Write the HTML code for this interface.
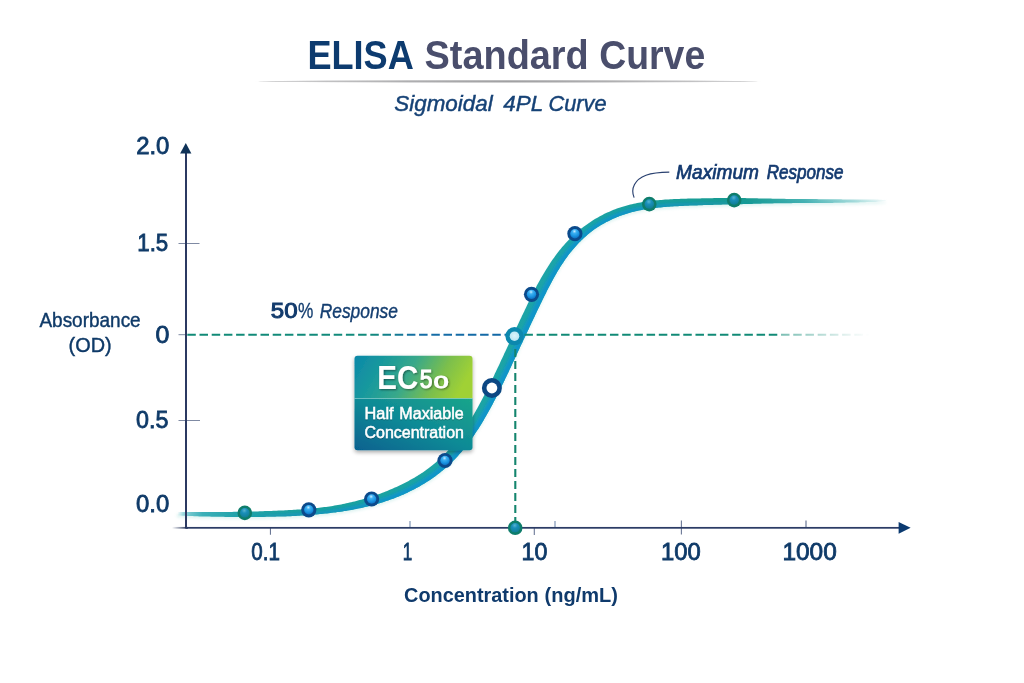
<!DOCTYPE html>
<html lang="en">
<head>
<meta charset="utf-8">
<title>ELISA Standard Curve</title>
<style>
  html, body { margin: 0; padding: 0; background: #ffffff; }
  body { width: 1024px; height: 683px; overflow: hidden; }
  svg { display: block; }
  text { font-family: "Liberation Sans", sans-serif; }
  .lbl { fill: #103a66; stroke: #103a66; stroke-width: 0.55px; }
  .ser { font-family: "Liberation Sans", sans-serif; }
</style>
</head>
<body>
<svg width="1024" height="683" viewBox="0 0 1024 683">
  <defs>
    <linearGradient id="ruleG" x1="0" x2="1" y1="0" y2="0">
      <stop offset="0" stop-color="#b2b2b4" stop-opacity="0"/>
      <stop offset="0.12" stop-color="#b2b2b4" stop-opacity="0.5"/>
      <stop offset="0.30" stop-color="#adadaf" stop-opacity="0.95"/>
      <stop offset="0.50" stop-color="#a0a0a2" stop-opacity="1"/>
      <stop offset="0.70" stop-color="#adadaf" stop-opacity="0.95"/>
      <stop offset="0.88" stop-color="#b2b2b4" stop-opacity="0.5"/>
      <stop offset="1" stop-color="#b2b2b4" stop-opacity="0"/>
    </linearGradient>
    <linearGradient id="curveG" gradientUnits="userSpaceOnUse" x1="174" x2="890" y1="0" y2="0">
      <stop offset="0" stop-color="#6cc6cd" stop-opacity="0"/>
      <stop offset="0.005" stop-color="#6cc6cd" stop-opacity="0"/>
      <stop offset="0.013" stop-color="#62c2ca" stop-opacity="0.6"/>
      <stop offset="0.024" stop-color="#52bac2" stop-opacity="0.85"/>
      <stop offset="0.04" stop-color="#3cb0b8" stop-opacity="1"/>
      <stop offset="0.085" stop-color="#22a4aa" stop-opacity="1"/>
      <stop offset="0.18" stop-color="#1aa09c" stop-opacity="1"/>
      <stop offset="0.32" stop-color="#1ba3a2" stop-opacity="1"/>
      <stop offset="0.55" stop-color="#1da4a8" stop-opacity="1"/>
      <stop offset="0.70" stop-color="#189e98" stop-opacity="1"/>
      <stop offset="0.80" stop-color="#179a90" stop-opacity="1"/>
      <stop offset="0.88" stop-color="#2aa6a6" stop-opacity="0.85"/>
      <stop offset="0.95" stop-color="#49b5b5" stop-opacity="0.45"/>
      <stop offset="1" stop-color="#6cc6c6" stop-opacity="0"/>
    </linearGradient>
    <linearGradient id="curveIn" gradientUnits="userSpaceOnUse" x1="174" x2="890" y1="0" y2="0">
      <stop offset="0" stop-color="#1391c8" stop-opacity="0"/>
      <stop offset="0.10" stop-color="#1391c8" stop-opacity="0.05"/>
      <stop offset="0.16" stop-color="#1391c8" stop-opacity="0.6"/>
      <stop offset="0.30" stop-color="#1294cb" stop-opacity="0.95"/>
      <stop offset="0.62" stop-color="#1294cb" stop-opacity="0.95"/>
      <stop offset="0.72" stop-color="#1391c8" stop-opacity="0.55"/>
      <stop offset="0.80" stop-color="#1391c8" stop-opacity="0.15"/>
      <stop offset="1" stop-color="#1391c8" stop-opacity="0"/>
    </linearGradient>
    <linearGradient id="hdashL" gradientUnits="userSpaceOnUse" x1="186" x2="516" y1="0" y2="0">
      <stop offset="0" stop-color="#118a76"/>
      <stop offset="0.56" stop-color="#128a7c"/>
      <stop offset="0.70" stop-color="#166ea6"/>
      <stop offset="1" stop-color="#1267a6"/>
    </linearGradient>
    <linearGradient id="hdashR" gradientUnits="userSpaceOnUse" x1="520" x2="870" y1="0" y2="0">
      <stop offset="0" stop-color="#118a76"/>
      <stop offset="0.735" stop-color="#118a76" stop-opacity="1"/>
      <stop offset="0.745" stop-color="#118a76" stop-opacity="0.55"/>
      <stop offset="0.86" stop-color="#118a76" stop-opacity="0.30"/>
      <stop offset="0.94" stop-color="#118a76" stop-opacity="0.10"/>
      <stop offset="1" stop-color="#118a76" stop-opacity="0"/>
    </linearGradient>
    <linearGradient id="xaxisG" gradientUnits="userSpaceOnUse" x1="172" x2="188" y1="0" y2="0">
      <stop offset="0" stop-color="#1f2e55" stop-opacity="0"/>
      <stop offset="1" stop-color="#1f2e55" stop-opacity="1"/>
    </linearGradient>
    <linearGradient id="boxTop" x1="0" x2="1" y1="0.1" y2="0.3">
      <stop offset="0" stop-color="#0c89a8"/>
      <stop offset="0.25" stop-color="#1a9a9c"/>
      <stop offset="0.5" stop-color="#38a88a"/>
      <stop offset="0.78" stop-color="#7cbf4c"/>
      <stop offset="1" stop-color="#a0d135"/>
    </linearGradient>
    <linearGradient id="boxBot" x1="0" x2="1" y1="1" y2="0">
      <stop offset="0" stop-color="#06618f"/>
      <stop offset="0.5" stop-color="#0f8a96"/>
      <stop offset="1" stop-color="#1aa58a"/>
    </linearGradient>
    <filter id="boxShadow" x="-20%" y="-20%" width="140%" height="150%">
      <feGaussianBlur in="SourceAlpha" stdDeviation="2.2"/>
      <feOffset dx="0" dy="2" result="b"/>
      <feComponentTransfer><feFuncA type="linear" slope="0.35"/></feComponentTransfer>
      <feMerge><feMergeNode/><feMergeNode in="SourceGraphic"/></feMerge>
    </filter>
    <filter id="txtShadow" x="-10%" y="-20%" width="120%" height="150%">
      <feGaussianBlur in="SourceAlpha" stdDeviation="0.9"/>
      <feOffset dx="0.6" dy="1.2"/>
      <feComponentTransfer><feFuncA type="linear" slope="0.45"/></feComponentTransfer>
      <feMerge><feMergeNode/><feMergeNode in="SourceGraphic"/></feMerge>
    </filter>
    <filter id="txtShadow2" x="-10%" y="-20%" width="120%" height="150%">
      <feGaussianBlur in="SourceAlpha" stdDeviation="0.6"/>
      <feOffset dx="0.3" dy="0.8"/>
      <feComponentTransfer><feFuncA type="linear" slope="0.3"/></feComponentTransfer>
      <feMerge><feMergeNode/><feMergeNode in="SourceGraphic"/></feMerge>
    </filter>
    <filter id="ruleSoft" x="-2%" y="-300%" width="104%" height="700%">
      <feGaussianBlur stdDeviation="0.7"/>
    </filter>
    <filter id="soft" x="-5%" y="-5%" width="110%" height="110%">
      <feGaussianBlur stdDeviation="1.5"/>
    </filter>
    <filter id="glow" x="-5%" y="-5%" width="110%" height="110%">
      <feGaussianBlur stdDeviation="1.5"/>
    </filter>
    <radialGradient id="ptBlue" cx="0.45" cy="0.25" r="0.75">
      <stop offset="0" stop-color="#c8ecff"/>
      <stop offset="0.28" stop-color="#3db1f2"/>
      <stop offset="0.7" stop-color="#1792e0"/>
      <stop offset="1" stop-color="#0f6fc0"/>
    </radialGradient>
    <radialGradient id="ptGreen" cx="0.45" cy="0.25" r="0.8">
      <stop offset="0" stop-color="#58b4d0"/>
      <stop offset="0.35" stop-color="#1a8fba"/>
      <stop offset="0.8" stop-color="#12819c"/>
      <stop offset="1" stop-color="#0e7d7b"/>
    </radialGradient>
    <radialGradient id="ptLight" cx="0.5" cy="0.45" r="0.6">
      <stop offset="0" stop-color="#dcf4fb"/>
      <stop offset="1" stop-color="#b4e4f2"/>
    </radialGradient>
    <g id="pBlue">
      <circle r="7.6" fill="#0b4a8b"/>
      <circle r="4.7" fill="url(#ptBlue)"/>
    </g>
    <g id="pGreen">
      <circle r="7.3" fill="#0e7d6b"/>
      <circle r="4.8" fill="url(#ptGreen)"/>
    </g>
  </defs>

  <rect x="0" y="0" width="1024" height="683" fill="#ffffff"/>

  <!-- Title, labels -->
  <g>
    <text transform="translate(307.40,68.85) scale(0.9035,1)" font-size="40.00" font-weight="700" fill="#0d3b6f">ELISA</text>
    <text transform="translate(424.61,68.95) scale(0.9399,1)" font-size="40.30" font-weight="700" fill="#4a4e6c">Standard</text>
    <text transform="translate(599.25,68.95) scale(0.9278,1)" font-size="40.30" font-weight="700" fill="#4a4e6c">Curve</text>
    <text transform="translate(394.30,111.20) scale(1.0047,1)" font-size="22.30" font-style="italic" fill="#164276" stroke="#164276" stroke-width="0.45">Sigmoidal</text>
    <text transform="translate(503.36,111.20) scale(1.0059,1)" font-size="22.30" font-style="italic" fill="#164276" stroke="#164276" stroke-width="0.45">4PL</text>
    <text transform="translate(548.47,111.20) scale(0.9763,1)" font-size="22.30" font-style="italic" fill="#164276" stroke="#164276" stroke-width="0.45">Curve</text>
    <text transform="translate(136.16,153.71) scale(1.0167,1)" font-size="23.52" fill="#0f3a68" stroke="#0f3a68" stroke-width="0.8">2.0</text>
    <text transform="translate(137.26,251.11) scale(0.9464,1)" font-size="23.57" fill="#0f3a68" stroke="#0f3a68" stroke-width="0.8">1.5</text>
    <text transform="translate(155.57,342.61) scale(1.0433,1)" font-size="23.94" fill="#0f3a68" stroke="#0f3a68" stroke-width="0.8">0</text>
    <text transform="translate(136.01,427.61) scale(0.9901,1)" font-size="23.52" fill="#0f3a68" stroke="#0f3a68" stroke-width="0.8">0.5</text>
    <text transform="translate(136.00,511.91) scale(1.0095,1)" font-size="23.66" fill="#0f3a68" stroke="#0f3a68" stroke-width="0.8">0.0</text>
    <text transform="translate(251.27,560.21) scale(0.8613,1)" font-size="23.94" fill="#0f3a68" stroke="#0f3a68" stroke-width="0.8">0.1</text>
    <text transform="translate(402.65,560.15) scale(0.7049,1)" font-size="24.20" fill="#0f3a68" stroke="#0f3a68" stroke-width="0.8">1</text>
    <text transform="translate(521.61,559.92) scale(0.9925,1)" font-size="23.38" fill="#0f3a68" stroke="#0f3a68" stroke-width="0.8">10</text>
    <text transform="translate(660.97,560.01) scale(1.0140,1)" font-size="23.52" fill="#0f3a68" stroke="#0f3a68" stroke-width="0.8">100</text>
    <text transform="translate(782.43,560.01) scale(1.0391,1)" font-size="23.52" fill="#0f3a68" stroke="#0f3a68" stroke-width="0.8">1000</text>
    <text transform="translate(39.44,327.45) scale(0.9306,1)" font-size="20.40" fill="#0f3a68" stroke="#0f3a68" stroke-width="0.4">Absorbance</text>
    <text transform="translate(68.55,352.05) scale(0.9758,1)" font-size="20.40" fill="#0f3a68" stroke="#0f3a68" stroke-width="0.4">(OD)</text>
    <text transform="translate(404.05,601.90) scale(0.9558,1)" font-size="20.80" font-weight="700" fill="#0f3a6c">Concentration</text>
    <text transform="translate(544.55,601.90) scale(0.9629,1)" font-size="20.80" font-weight="700" fill="#0f3a6c">(ng/mL)</text>
    <text transform="translate(270.82,317.83) scale(1.0754,1)" font-size="22.39" fill="#123a6c" stroke="#123a6c" stroke-width="1.0">50</text>
    <text transform="translate(298.07,317.89) scale(0.8138,1)" font-size="21.21" fill="#143e70" stroke="#143e70" stroke-width="0.3">%</text>
    <text transform="translate(319.70,317.70) scale(0.8517,1)" font-size="20.40" font-style="italic" fill="#143e70" stroke="#143e70" stroke-width="0.4">Response</text>
    <text transform="translate(676.12,178.80) scale(0.9812,1)" font-size="19.50" font-style="italic" fill="#143a70" stroke="#143a70" stroke-width="0.7">Maximum</text>
    <text transform="translate(766.74,178.80) scale(0.8752,1)" font-size="19.50" font-style="italic" fill="#143a70" stroke="#143a70" stroke-width="0.7">Response</text>
  </g>
  <ellipse cx="508" cy="81.4" rx="250" ry="1.3" fill="#a4a4a6" opacity="0.45" filter="url(#ruleSoft)"/>
  <ellipse cx="508" cy="81.35" rx="256" ry="0.85" fill="url(#ruleG)"/>

  <!-- y ticks -->
  <g stroke="#7f8aa3" stroke-width="1">
    <line x1="178.5" x2="199.5" y1="243.5" y2="243.5"/>
    <line x1="178.5" x2="186" y1="334.7" y2="334.7"/>
    <line x1="178.5" x2="200" y1="420.5" y2="420.5"/>
  </g>
  <!-- x ticks -->
  <g stroke="#6b7896" stroke-width="1.1">
    <line x1="270.45" x2="270.45" y1="528" y2="534.7"/>
    <line x1="534.3" x2="534.3" y1="528" y2="535"/>
    <line x1="681.4" x2="681.4" y1="520.5" y2="534.6"/>
  </g>
  <g stroke="#9fb0c8" stroke-width="1.6">
    <line x1="410" x2="410" y1="521" y2="527"/>
    <line x1="555" x2="555" y1="521" y2="527"/>
  </g>
  <g stroke="#6b7896" stroke-width="1.2">
    <line x1="806" x2="806" y1="520.5" y2="527"/>
  </g>

  <!-- curve -->
  <clipPath id="curveClip"><path d="M176.9,515.5 L178.6,515.5 L180.4,515.6 L182.1,515.7 L183.8,515.8 L185.6,515.8 L187.3,515.9 L189.0,516.0 L190.7,516.1 L192.5,516.1 L194.2,516.2 L195.9,516.3 L197.6,516.3 L199.4,516.4 L201.1,516.4 L202.8,516.5 L204.5,516.5 L206.3,516.6 L208.0,516.6 L209.7,516.6 L211.4,516.7 L213.2,516.7 L214.9,516.7 L216.6,516.7 L218.4,516.8 L220.1,516.8 L221.8,516.8 L223.5,516.8 L225.3,516.9 L227.0,516.9 L228.7,516.9 L230.4,516.9 L232.2,516.9 L233.9,516.9 L235.6,517.0 L237.3,517.0 L239.1,517.0 L240.8,517.0 L242.5,517.0 L244.2,517.0 L245.9,517.0 L247.7,517.0 L249.4,517.0 L251.1,517.0 L252.8,517.0 L254.6,517.0 L256.3,516.9 L258.0,516.9 L259.7,516.9 L261.5,516.9 L263.2,516.9 L264.9,516.9 L266.6,516.8 L268.3,516.8 L270.1,516.8 L271.8,516.7 L273.5,516.7 L275.2,516.7 L276.9,516.6 L278.7,516.6 L280.4,516.5 L282.1,516.5 L283.8,516.4 L285.5,516.4 L287.3,516.3 L289.0,516.2 L290.7,516.2 L292.4,516.1 L294.2,516.0 L295.9,515.9 L297.6,515.8 L299.3,515.7 L301.0,515.6 L302.8,515.5 L304.5,515.4 L306.2,515.3 L307.9,515.2 L309.6,515.0 L311.4,514.9 L313.1,514.8 L314.8,514.6 L316.5,514.5 L318.3,514.3 L320.0,514.1 L321.7,514.0 L323.4,513.8 L325.1,513.6 L326.9,513.4 L328.6,513.2 L330.3,513.0 L332.0,512.8 L333.8,512.6 L335.5,512.4 L337.2,512.1 L339.0,511.9 L340.7,511.7 L342.4,511.4 L344.2,511.1 L345.9,510.9 L347.6,510.6 L349.3,510.3 L351.1,510.0 L352.8,509.7 L354.5,509.3 L356.3,509.0 L358.0,508.6 L359.7,508.3 L361.5,507.9 L363.2,507.5 L364.9,507.1 L366.6,506.7 L368.4,506.3 L370.1,505.8 L371.8,505.4 L373.5,504.9 L375.2,504.4 L376.9,503.9 L378.6,503.4 L380.3,502.9 L382.0,502.4 L383.7,501.9 L385.4,501.3 L387.1,500.8 L388.8,500.2 L390.4,499.6 L392.1,499.0 L393.8,498.4 L395.4,497.8 L397.1,497.1 L398.7,496.5 L400.4,495.8 L402.0,495.1 L403.6,494.4 L405.3,493.6 L406.9,492.9 L408.5,492.1 L410.0,491.3 L411.6,490.6 L413.2,489.7 L414.8,488.9 L416.3,488.1 L417.9,487.2 L419.4,486.4 L420.9,485.5 L422.5,484.6 L424.0,483.7 L425.5,482.8 L427.0,481.8 L428.4,480.9 L429.9,479.9 L431.4,478.9 L432.8,477.9 L434.2,476.9 L435.7,475.9 L437.1,474.8 L438.5,473.7 L439.9,472.7 L441.2,471.6 L442.6,470.5 L444.0,469.3 L445.3,468.2 L446.6,467.0 L447.9,465.8 L449.2,464.6 L450.5,463.4 L451.8,462.2 L453.0,461.0 L454.3,459.7 L455.5,458.4 L456.7,457.2 L457.9,455.9 L459.0,454.5 L460.2,453.2 L461.4,451.9 L462.5,450.5 L463.6,449.2 L464.7,447.8 L465.8,446.4 L466.9,445.0 L468.0,443.6 L469.0,442.2 L470.1,440.8 L471.1,439.4 L472.1,437.9 L473.2,436.5 L474.2,435.0 L475.1,433.6 L476.1,432.1 L477.1,430.6 L478.1,429.2 L479.0,427.7 L479.9,426.2 L480.9,424.7 L481.8,423.2 L482.7,421.7 L483.6,420.2 L484.5,418.6 L485.4,417.1 L486.3,415.6 L487.1,414.1 L488.0,412.5 L488.8,411.0 L489.7,409.5 L490.5,407.9 L491.3,406.4 L492.2,404.9 L493.0,403.3 L493.8,401.8 L494.6,400.2 L495.4,398.7 L496.2,397.1 L497.0,395.6 L497.8,394.1 L498.5,392.5 L499.3,391.0 L500.1,389.4 L500.8,387.9 L501.6,386.3 L502.3,384.8 L503.1,383.3 L503.8,381.7 L504.6,380.2 L505.3,378.6 L506.1,377.1 L506.8,375.5 L507.5,374.0 L508.3,372.4 L509.0,370.9 L509.7,369.3 L510.5,367.8 L511.2,366.2 L511.9,364.7 L512.6,363.1 L513.4,361.6 L514.1,360.0 L514.8,358.5 L515.5,356.9 L516.3,355.4 L517.0,353.8 L517.7,352.3 L518.4,350.7 L519.2,349.2 L519.9,347.6 L520.6,346.1 L521.3,344.5 L522.1,343.0 L522.8,341.4 L523.5,339.8 L524.3,338.3 L525.0,336.7 L525.7,335.2 L526.5,333.6 L527.2,332.0 L527.9,330.5 L528.7,328.9 L529.4,327.3 L530.1,325.8 L530.9,324.2 L531.6,322.6 L532.4,321.1 L533.1,319.5 L533.8,317.9 L534.6,316.4 L535.3,314.8 L536.1,313.2 L536.8,311.6 L537.6,310.1 L538.3,308.5 L539.1,306.9 L539.8,305.4 L540.6,303.8 L541.4,302.2 L542.1,300.7 L542.9,299.1 L543.7,297.5 L544.4,296.0 L545.2,294.4 L546.0,292.9 L546.7,291.3 L547.5,289.8 L548.3,288.3 L549.1,286.7 L549.9,285.2 L550.7,283.7 L551.5,282.2 L552.3,280.7 L553.1,279.2 L553.9,277.7 L554.8,276.2 L555.6,274.7 L556.5,273.3 L557.3,271.8 L558.2,270.3 L559.1,268.9 L559.9,267.5 L560.8,266.1 L561.7,264.7 L562.7,263.3 L563.6,261.9 L564.5,260.5 L565.5,259.1 L566.5,257.8 L567.4,256.4 L568.4,255.1 L569.4,253.8 L570.4,252.5 L571.5,251.2 L572.5,249.9 L573.6,248.7 L574.7,247.4 L575.8,246.2 L576.9,245.0 L578.0,243.8 L579.1,242.6 L580.3,241.4 L581.4,240.3 L582.6,239.2 L583.8,238.0 L585.0,236.9 L586.2,235.9 L587.4,234.8 L588.7,233.7 L589.9,232.7 L591.2,231.7 L592.5,230.7 L593.8,229.7 L595.1,228.8 L596.5,227.9 L597.8,227.0 L599.2,226.2 L600.6,225.3 L602.0,224.5 L603.4,223.7 L604.8,222.9 L606.3,222.1 L607.7,221.4 L609.2,220.7 L610.6,220.0 L612.1,219.3 L613.6,218.6 L615.1,217.9 L616.6,217.3 L618.1,216.7 L619.6,216.1 L621.2,215.5 L622.7,215.0 L624.3,214.5 L625.8,214.0 L627.4,213.5 L629.0,213.0 L630.6,212.5 L632.2,212.1 L633.8,211.7 L635.4,211.3 L637.0,211.0 L638.7,210.6 L640.3,210.3 L641.9,209.9 L643.6,209.6 L645.3,209.3 L646.9,209.1 L648.6,208.8 L650.3,208.6 L652.0,208.3 L653.7,208.1 L655.4,207.9 L657.1,207.7 L658.8,207.5 L660.5,207.4 L662.2,207.2 L663.9,207.1 L665.6,206.9 L667.3,206.8 L669.1,206.7 L670.8,206.5 L672.5,206.4 L674.3,206.3 L676.0,206.2 L677.8,206.2 L679.5,206.1 L681.2,206.0 L683.0,205.9 L684.7,205.8 L686.5,205.8 L688.2,205.7 L689.9,205.6 L691.7,205.5 L693.4,205.5 L695.2,205.4 L696.9,205.4 L698.6,205.3 L700.4,205.2 L702.1,205.2 L703.8,205.1 L705.6,205.1 L707.3,205.0 L709.0,205.0 L710.7,204.9 L712.5,204.9 L714.2,204.8 L715.9,204.8 L717.6,204.7 L719.4,204.7 L721.1,204.7 L722.8,204.6 L724.5,204.6 L726.2,204.5 L728.0,204.5 L729.7,204.5 L731.4,204.4 L733.1,204.4 L734.8,204.4 L736.5,204.3 L738.3,204.3 L740.0,204.2 L741.7,204.2 L743.4,204.1 L745.1,204.1 L746.8,204.0 L748.5,204.0 L750.3,203.9 L752.0,203.9 L753.7,203.8 L755.4,203.8 L757.1,203.7 L758.8,203.7 L760.5,203.7 L762.2,203.6 L763.9,203.6 L765.6,203.5 L767.4,203.5 L769.1,203.4 L770.8,203.4 L772.5,203.4 L774.2,203.3 L775.9,203.3 L777.6,203.3 L779.3,203.2 L781.0,203.2 L782.7,203.2 L784.4,203.2 L786.1,203.2 L787.8,203.2 L789.6,203.2 L791.3,203.2 L793.0,203.1 L794.7,203.1 L796.4,203.1 L798.1,203.1 L799.8,203.1 L801.5,203.1 L803.2,203.1 L804.9,203.1 L806.7,203.1 L808.4,203.0 L810.1,203.0 L811.8,203.0 L813.5,203.0 L815.2,203.0 L816.9,203.0 L818.6,203.0 L820.4,203.0 L822.1,202.9 L823.8,202.9 L825.5,202.9 L827.2,202.9 L828.9,202.9 L830.6,202.9 L832.4,202.9 L834.1,202.8 L835.8,202.8 L837.5,202.8 L839.3,202.8 L841.0,202.7 L842.7,202.7 L844.4,202.7 L846.1,202.6 L847.9,202.6 L849.6,202.5 L851.3,202.5 L853.1,202.5 L854.8,202.4 L856.5,202.4 L858.2,202.4 L860.0,202.3 L861.7,202.3 L863.4,202.2 L865.2,202.2 L866.9,202.1 L868.7,202.1 L870.4,202.0 L872.1,202.0 L873.9,201.9 L875.6,201.9 L877.4,201.7 L879.1,201.6 L880.9,201.4 L882.6,201.3 L884.4,201.1 L886.1,201.0 L886.1,200.0 L884.3,200.0 L882.6,199.9 L880.8,199.8 L879.1,199.7 L877.3,199.6 L875.6,199.5 L873.8,199.5 L872.1,199.5 L870.4,199.5 L868.6,199.5 L866.9,199.5 L865.2,199.5 L863.4,199.5 L861.7,199.5 L860.0,199.5 L858.2,199.5 L856.5,199.5 L854.8,199.5 L853.0,199.5 L851.3,199.4 L849.6,199.4 L847.9,199.4 L846.1,199.4 L844.4,199.4 L842.7,199.4 L841.0,199.3 L839.2,199.3 L837.5,199.3 L835.8,199.3 L834.1,199.3 L832.4,199.3 L830.6,199.2 L828.9,199.2 L827.2,199.2 L825.5,199.2 L823.8,199.2 L822.1,199.2 L820.4,199.2 L818.6,199.2 L816.9,199.1 L815.2,199.1 L813.5,199.1 L811.8,199.1 L810.1,199.1 L808.4,199.1 L806.7,199.1 L804.9,199.0 L803.2,199.0 L801.5,199.0 L799.8,199.0 L798.1,199.0 L796.4,199.0 L794.7,198.9 L793.0,198.9 L791.3,198.9 L789.6,198.9 L787.9,198.9 L786.1,198.9 L784.4,198.8 L782.7,198.8 L781.0,198.8 L779.3,198.8 L777.6,198.8 L775.9,198.7 L774.2,198.7 L772.5,198.7 L770.8,198.6 L769.1,198.6 L767.3,198.6 L765.6,198.5 L763.9,198.5 L762.2,198.4 L760.5,198.4 L758.8,198.4 L757.1,198.3 L755.4,198.3 L753.7,198.3 L751.9,198.3 L750.2,198.2 L748.5,198.2 L746.8,198.2 L745.1,198.1 L743.4,198.1 L741.6,198.1 L739.9,198.1 L738.2,198.0 L736.5,198.0 L734.8,198.0 L733.0,198.0 L731.3,198.0 L729.6,198.0 L727.9,198.0 L726.2,198.0 L724.4,198.0 L722.7,198.1 L721.0,198.1 L719.3,198.1 L717.5,198.1 L715.8,198.1 L714.1,198.1 L712.3,198.2 L710.6,198.2 L708.9,198.2 L707.1,198.2 L705.4,198.3 L703.7,198.3 L701.9,198.3 L700.2,198.4 L698.4,198.4 L696.7,198.4 L695.0,198.5 L693.2,198.5 L691.5,198.5 L689.7,198.6 L688.0,198.6 L686.2,198.7 L684.5,198.7 L682.7,198.8 L680.9,198.8 L679.2,198.9 L677.4,199.0 L675.7,199.0 L673.9,199.1 L672.1,199.2 L670.4,199.3 L668.6,199.4 L666.9,199.5 L665.1,199.6 L663.3,199.7 L661.6,199.9 L659.8,200.0 L658.0,200.2 L656.3,200.3 L654.5,200.5 L652.8,200.7 L651.0,200.9 L649.3,201.1 L647.5,201.3 L645.8,201.6 L644.0,201.8 L642.3,202.1 L640.6,202.4 L638.8,202.7 L637.1,203.0 L635.4,203.4 L633.7,203.8 L632.0,204.2 L630.3,204.6 L628.6,205.0 L626.9,205.5 L625.2,205.9 L623.5,206.4 L621.8,206.9 L620.2,207.5 L618.5,208.0 L616.9,208.6 L615.2,209.2 L613.6,209.8 L612.0,210.5 L610.4,211.2 L608.8,211.9 L607.2,212.6 L605.6,213.3 L604.0,214.1 L602.5,214.9 L600.9,215.7 L599.4,216.5 L597.9,217.4 L596.4,218.2 L594.9,219.1 L593.4,220.0 L591.9,221.0 L590.5,221.9 L589.0,222.9 L587.6,223.9 L586.2,224.9 L584.7,225.9 L583.3,227.0 L582.0,228.1 L580.6,229.1 L579.2,230.3 L577.9,231.4 L576.6,232.5 L575.2,233.7 L573.9,234.9 L572.7,236.1 L571.4,237.3 L570.1,238.5 L568.9,239.8 L567.7,241.0 L566.5,242.3 L565.3,243.6 L564.1,244.9 L562.9,246.3 L561.8,247.6 L560.7,249.0 L559.5,250.3 L558.4,251.7 L557.4,253.1 L556.3,254.5 L555.2,255.9 L554.2,257.4 L553.2,258.8 L552.1,260.3 L551.1,261.7 L550.1,263.2 L549.2,264.7 L548.2,266.2 L547.3,267.7 L546.3,269.2 L545.4,270.7 L544.5,272.2 L543.6,273.7 L542.7,275.2 L541.8,276.8 L540.9,278.3 L540.0,279.9 L539.1,281.4 L538.3,283.0 L537.4,284.5 L536.6,286.1 L535.8,287.7 L535.0,289.2 L534.1,290.8 L533.4,292.4 L532.6,294.0 L531.8,295.6 L531.0,297.2 L530.2,298.7 L529.5,300.3 L528.7,301.9 L527.9,303.5 L527.2,305.1 L526.4,306.7 L525.7,308.2 L524.9,309.8 L524.2,311.4 L523.4,313.0 L522.7,314.6 L521.9,316.1 L521.2,317.7 L520.4,319.3 L519.7,320.8 L518.9,322.4 L518.2,324.0 L517.5,325.5 L516.7,327.1 L516.0,328.7 L515.3,330.2 L514.5,331.8 L513.8,333.4 L513.1,334.9 L512.3,336.5 L511.6,338.1 L510.9,339.6 L510.1,341.2 L509.4,342.7 L508.7,344.3 L508.0,345.8 L507.2,347.4 L506.5,349.0 L505.8,350.5 L505.1,352.1 L504.3,353.6 L503.6,355.2 L502.9,356.7 L502.2,358.3 L501.4,359.8 L500.7,361.3 L500.0,362.9 L499.3,364.4 L498.6,366.0 L497.8,367.5 L497.1,369.0 L496.4,370.6 L495.7,372.1 L494.9,373.6 L494.2,375.2 L493.5,376.7 L492.7,378.2 L492.0,379.8 L491.2,381.3 L490.5,382.8 L489.7,384.3 L489.0,385.9 L488.2,387.4 L487.5,388.9 L486.7,390.4 L485.9,391.9 L485.2,393.4 L484.4,395.0 L483.6,396.5 L482.8,398.0 L482.0,399.5 L481.2,401.0 L480.4,402.5 L479.6,404.0 L478.8,405.5 L478.0,407.0 L477.2,408.5 L476.3,410.0 L475.5,411.5 L474.6,412.9 L473.8,414.4 L472.9,415.9 L472.1,417.3 L471.2,418.8 L470.3,420.2 L469.4,421.7 L468.5,423.1 L467.6,424.5 L466.7,426.0 L465.8,427.4 L464.9,428.8 L463.9,430.2 L463.0,431.5 L462.0,432.9 L461.0,434.3 L460.1,435.6 L459.1,437.0 L458.1,438.3 L457.1,439.7 L456.1,441.0 L455.0,442.3 L454.0,443.6 L453.0,444.8 L451.9,446.1 L450.8,447.4 L449.8,448.6 L448.7,449.8 L447.6,451.0 L446.4,452.2 L445.3,453.4 L444.2,454.6 L443.0,455.8 L441.9,456.9 L440.7,458.0 L439.5,459.2 L438.3,460.3 L437.1,461.3 L435.8,462.4 L434.6,463.5 L433.3,464.5 L432.1,465.5 L430.8,466.6 L429.5,467.6 L428.2,468.6 L426.8,469.5 L425.5,470.5 L424.1,471.4 L422.8,472.4 L421.4,473.3 L420.0,474.2 L418.6,475.1 L417.2,476.0 L415.8,476.8 L414.4,477.7 L412.9,478.5 L411.5,479.3 L410.0,480.1 L408.6,480.9 L407.1,481.7 L405.6,482.5 L404.1,483.3 L402.6,484.0 L401.1,484.7 L399.5,485.5 L398.0,486.2 L396.5,486.9 L394.9,487.6 L393.4,488.3 L391.9,489.0 L390.3,489.6 L388.7,490.3 L387.2,491.0 L385.6,491.6 L384.0,492.2 L382.4,492.8 L380.8,493.4 L379.2,494.0 L377.6,494.6 L376.0,495.2 L374.3,495.7 L372.7,496.2 L371.1,496.8 L369.5,497.3 L367.8,497.8 L366.2,498.3 L364.5,498.8 L362.9,499.2 L361.2,499.7 L359.6,500.1 L357.9,500.6 L356.2,501.0 L354.6,501.4 L352.9,501.8 L351.2,502.2 L349.6,502.6 L347.9,503.0 L346.2,503.3 L344.6,503.7 L342.9,504.0 L341.2,504.4 L339.5,504.7 L337.9,505.0 L336.2,505.3 L334.5,505.6 L332.8,505.9 L331.1,506.2 L329.5,506.5 L327.8,506.7 L326.1,506.9 L324.4,507.1 L322.7,507.3 L321.0,507.5 L319.3,507.7 L317.6,507.9 L315.9,508.1 L314.2,508.3 L312.5,508.4 L310.8,508.6 L309.1,508.7 L307.4,508.9 L305.7,509.0 L304.0,509.1 L302.3,509.3 L300.6,509.4 L298.9,509.5 L297.2,509.6 L295.5,509.7 L293.8,509.8 L292.1,509.9 L290.4,510.0 L288.7,510.1 L287.0,510.2 L285.3,510.3 L283.6,510.4 L281.9,510.4 L280.2,510.5 L278.5,510.6 L276.7,510.7 L275.0,510.7 L273.3,510.8 L271.6,510.9 L269.9,510.9 L268.2,511.0 L266.5,511.1 L264.8,511.1 L263.0,511.2 L261.3,511.2 L259.6,511.3 L257.9,511.4 L256.2,511.4 L254.5,511.5 L252.8,511.5 L251.0,511.5 L249.3,511.6 L247.6,511.6 L245.9,511.7 L244.2,511.7 L242.5,511.7 L240.7,511.8 L239.0,511.8 L237.3,511.8 L235.6,511.8 L233.9,511.8 L232.1,511.9 L230.4,511.9 L228.7,511.9 L227.0,511.9 L225.3,511.9 L223.5,511.9 L221.8,512.0 L220.1,512.0 L218.4,512.0 L216.7,512.0 L214.9,512.0 L213.2,512.0 L211.5,512.0 L209.8,512.0 L208.0,512.0 L206.3,512.0 L204.6,512.0 L202.9,512.0 L201.2,512.0 L199.4,512.0 L197.7,512.0 L196.0,512.0 L194.3,512.0 L192.5,512.0 L190.8,512.0 L189.1,512.1 L187.3,512.1 L185.6,512.1 L183.9,512.1 L182.2,512.1 L180.4,512.1 L178.7,512.1 L177.0,512.1Z"/></clipPath>
  <path d="M176.9,515.5 L178.6,515.5 L180.4,515.6 L182.1,515.7 L183.8,515.8 L185.6,515.8 L187.3,515.9 L189.0,516.0 L190.7,516.1 L192.5,516.1 L194.2,516.2 L195.9,516.3 L197.6,516.3 L199.4,516.4 L201.1,516.4 L202.8,516.5 L204.5,516.5 L206.3,516.6 L208.0,516.6 L209.7,516.6 L211.4,516.7 L213.2,516.7 L214.9,516.7 L216.6,516.7 L218.4,516.8 L220.1,516.8 L221.8,516.8 L223.5,516.8 L225.3,516.9 L227.0,516.9 L228.7,516.9 L230.4,516.9 L232.2,516.9 L233.9,516.9 L235.6,517.0 L237.3,517.0 L239.1,517.0 L240.8,517.0 L242.5,517.0 L244.2,517.0 L245.9,517.0 L247.7,517.0 L249.4,517.0 L251.1,517.0 L252.8,517.0 L254.6,517.0 L256.3,516.9 L258.0,516.9 L259.7,516.9 L261.5,516.9 L263.2,516.9 L264.9,516.9 L266.6,516.8 L268.3,516.8 L270.1,516.8 L271.8,516.7 L273.5,516.7 L275.2,516.7 L276.9,516.6 L278.7,516.6 L280.4,516.5 L282.1,516.5 L283.8,516.4 L285.5,516.4 L287.3,516.3 L289.0,516.2 L290.7,516.2 L292.4,516.1 L294.2,516.0 L295.9,515.9 L297.6,515.8 L299.3,515.7 L301.0,515.6 L302.8,515.5 L304.5,515.4 L306.2,515.3 L307.9,515.2 L309.6,515.0 L311.4,514.9 L313.1,514.8 L314.8,514.6 L316.5,514.5 L318.3,514.3 L320.0,514.1 L321.7,514.0 L323.4,513.8 L325.1,513.6 L326.9,513.4 L328.6,513.2 L330.3,513.0 L332.0,512.8 L333.8,512.6 L335.5,512.4 L337.2,512.1 L339.0,511.9 L340.7,511.7 L342.4,511.4 L344.2,511.1 L345.9,510.9 L347.6,510.6 L349.3,510.3 L351.1,510.0 L352.8,509.7 L354.5,509.3 L356.3,509.0 L358.0,508.6 L359.7,508.3 L361.5,507.9 L363.2,507.5 L364.9,507.1 L366.6,506.7 L368.4,506.3 L370.1,505.8 L371.8,505.4 L373.5,504.9 L375.2,504.4 L376.9,503.9 L378.6,503.4 L380.3,502.9 L382.0,502.4 L383.7,501.9 L385.4,501.3 L387.1,500.8 L388.8,500.2 L390.4,499.6 L392.1,499.0 L393.8,498.4 L395.4,497.8 L397.1,497.1 L398.7,496.5 L400.4,495.8 L402.0,495.1 L403.6,494.4 L405.3,493.6 L406.9,492.9 L408.5,492.1 L410.0,491.3 L411.6,490.6 L413.2,489.7 L414.8,488.9 L416.3,488.1 L417.9,487.2 L419.4,486.4 L420.9,485.5 L422.5,484.6 L424.0,483.7 L425.5,482.8 L427.0,481.8 L428.4,480.9 L429.9,479.9 L431.4,478.9 L432.8,477.9 L434.2,476.9 L435.7,475.9 L437.1,474.8 L438.5,473.7 L439.9,472.7 L441.2,471.6 L442.6,470.5 L444.0,469.3 L445.3,468.2 L446.6,467.0 L447.9,465.8 L449.2,464.6 L450.5,463.4 L451.8,462.2 L453.0,461.0 L454.3,459.7 L455.5,458.4 L456.7,457.2 L457.9,455.9 L459.0,454.5 L460.2,453.2 L461.4,451.9 L462.5,450.5 L463.6,449.2 L464.7,447.8 L465.8,446.4 L466.9,445.0 L468.0,443.6 L469.0,442.2 L470.1,440.8 L471.1,439.4 L472.1,437.9 L473.2,436.5 L474.2,435.0 L475.1,433.6 L476.1,432.1 L477.1,430.6 L478.1,429.2 L479.0,427.7 L479.9,426.2 L480.9,424.7 L481.8,423.2 L482.7,421.7 L483.6,420.2 L484.5,418.6 L485.4,417.1 L486.3,415.6 L487.1,414.1 L488.0,412.5 L488.8,411.0 L489.7,409.5 L490.5,407.9 L491.3,406.4 L492.2,404.9 L493.0,403.3 L493.8,401.8 L494.6,400.2 L495.4,398.7 L496.2,397.1 L497.0,395.6 L497.8,394.1 L498.5,392.5 L499.3,391.0 L500.1,389.4 L500.8,387.9 L501.6,386.3 L502.3,384.8 L503.1,383.3 L503.8,381.7 L504.6,380.2 L505.3,378.6 L506.1,377.1 L506.8,375.5 L507.5,374.0 L508.3,372.4 L509.0,370.9 L509.7,369.3 L510.5,367.8 L511.2,366.2 L511.9,364.7 L512.6,363.1 L513.4,361.6 L514.1,360.0 L514.8,358.5 L515.5,356.9 L516.3,355.4 L517.0,353.8 L517.7,352.3 L518.4,350.7 L519.2,349.2 L519.9,347.6 L520.6,346.1 L521.3,344.5 L522.1,343.0 L522.8,341.4 L523.5,339.8 L524.3,338.3 L525.0,336.7 L525.7,335.2 L526.5,333.6 L527.2,332.0 L527.9,330.5 L528.7,328.9 L529.4,327.3 L530.1,325.8 L530.9,324.2 L531.6,322.6 L532.4,321.1 L533.1,319.5 L533.8,317.9 L534.6,316.4 L535.3,314.8 L536.1,313.2 L536.8,311.6 L537.6,310.1 L538.3,308.5 L539.1,306.9 L539.8,305.4 L540.6,303.8 L541.4,302.2 L542.1,300.7 L542.9,299.1 L543.7,297.5 L544.4,296.0 L545.2,294.4 L546.0,292.9 L546.7,291.3 L547.5,289.8 L548.3,288.3 L549.1,286.7 L549.9,285.2 L550.7,283.7 L551.5,282.2 L552.3,280.7 L553.1,279.2 L553.9,277.7 L554.8,276.2 L555.6,274.7 L556.5,273.3 L557.3,271.8 L558.2,270.3 L559.1,268.9 L559.9,267.5 L560.8,266.1 L561.7,264.7 L562.7,263.3 L563.6,261.9 L564.5,260.5 L565.5,259.1 L566.5,257.8 L567.4,256.4 L568.4,255.1 L569.4,253.8 L570.4,252.5 L571.5,251.2 L572.5,249.9 L573.6,248.7 L574.7,247.4 L575.8,246.2 L576.9,245.0 L578.0,243.8 L579.1,242.6 L580.3,241.4 L581.4,240.3 L582.6,239.2 L583.8,238.0 L585.0,236.9 L586.2,235.9 L587.4,234.8 L588.7,233.7 L589.9,232.7 L591.2,231.7 L592.5,230.7 L593.8,229.7 L595.1,228.8 L596.5,227.9 L597.8,227.0 L599.2,226.2 L600.6,225.3 L602.0,224.5 L603.4,223.7 L604.8,222.9 L606.3,222.1 L607.7,221.4 L609.2,220.7 L610.6,220.0 L612.1,219.3 L613.6,218.6 L615.1,217.9 L616.6,217.3 L618.1,216.7 L619.6,216.1 L621.2,215.5 L622.7,215.0 L624.3,214.5 L625.8,214.0 L627.4,213.5 L629.0,213.0 L630.6,212.5 L632.2,212.1 L633.8,211.7 L635.4,211.3 L637.0,211.0 L638.7,210.6 L640.3,210.3 L641.9,209.9 L643.6,209.6 L645.3,209.3 L646.9,209.1 L648.6,208.8 L650.3,208.6 L652.0,208.3 L653.7,208.1 L655.4,207.9 L657.1,207.7 L658.8,207.5 L660.5,207.4 L662.2,207.2 L663.9,207.1 L665.6,206.9 L667.3,206.8 L669.1,206.7 L670.8,206.5 L672.5,206.4 L674.3,206.3 L676.0,206.2 L677.8,206.2 L679.5,206.1 L681.2,206.0 L683.0,205.9 L684.7,205.8 L686.5,205.8 L688.2,205.7 L689.9,205.6 L691.7,205.5 L693.4,205.5 L695.2,205.4 L696.9,205.4 L698.6,205.3 L700.4,205.2 L702.1,205.2 L703.8,205.1 L705.6,205.1 L707.3,205.0 L709.0,205.0 L710.7,204.9 L712.5,204.9 L714.2,204.8 L715.9,204.8 L717.6,204.7 L719.4,204.7 L721.1,204.7 L722.8,204.6 L724.5,204.6 L726.2,204.5 L728.0,204.5 L729.7,204.5 L731.4,204.4 L733.1,204.4 L734.8,204.4 L736.5,204.3 L738.3,204.3 L740.0,204.2 L741.7,204.2 L743.4,204.1 L745.1,204.1 L746.8,204.0 L748.5,204.0 L750.3,203.9 L752.0,203.9 L753.7,203.8 L755.4,203.8 L757.1,203.7 L758.8,203.7 L760.5,203.7 L762.2,203.6 L763.9,203.6 L765.6,203.5 L767.4,203.5 L769.1,203.4 L770.8,203.4 L772.5,203.4 L774.2,203.3 L775.9,203.3 L777.6,203.3 L779.3,203.2 L781.0,203.2 L782.7,203.2 L784.4,203.2 L786.1,203.2 L787.8,203.2 L789.6,203.2 L791.3,203.2 L793.0,203.1 L794.7,203.1 L796.4,203.1 L798.1,203.1 L799.8,203.1 L801.5,203.1 L803.2,203.1 L804.9,203.1 L806.7,203.1 L808.4,203.0 L810.1,203.0 L811.8,203.0 L813.5,203.0 L815.2,203.0 L816.9,203.0 L818.6,203.0 L820.4,203.0 L822.1,202.9 L823.8,202.9 L825.5,202.9 L827.2,202.9 L828.9,202.9 L830.6,202.9 L832.4,202.9 L834.1,202.8 L835.8,202.8 L837.5,202.8 L839.3,202.8 L841.0,202.7 L842.7,202.7 L844.4,202.7 L846.1,202.6 L847.9,202.6 L849.6,202.5 L851.3,202.5 L853.1,202.5 L854.8,202.4 L856.5,202.4 L858.2,202.4 L860.0,202.3 L861.7,202.3 L863.4,202.2 L865.2,202.2 L866.9,202.1 L868.7,202.1 L870.4,202.0 L872.1,202.0 L873.9,201.9 L875.6,201.9 L877.4,201.7 L879.1,201.6 L880.9,201.4 L882.6,201.3 L884.4,201.1 L886.1,201.0 L886.1,200.0 L884.3,200.0 L882.6,199.9 L880.8,199.8 L879.1,199.7 L877.3,199.6 L875.6,199.5 L873.8,199.5 L872.1,199.5 L870.4,199.5 L868.6,199.5 L866.9,199.5 L865.2,199.5 L863.4,199.5 L861.7,199.5 L860.0,199.5 L858.2,199.5 L856.5,199.5 L854.8,199.5 L853.0,199.5 L851.3,199.4 L849.6,199.4 L847.9,199.4 L846.1,199.4 L844.4,199.4 L842.7,199.4 L841.0,199.3 L839.2,199.3 L837.5,199.3 L835.8,199.3 L834.1,199.3 L832.4,199.3 L830.6,199.2 L828.9,199.2 L827.2,199.2 L825.5,199.2 L823.8,199.2 L822.1,199.2 L820.4,199.2 L818.6,199.2 L816.9,199.1 L815.2,199.1 L813.5,199.1 L811.8,199.1 L810.1,199.1 L808.4,199.1 L806.7,199.1 L804.9,199.0 L803.2,199.0 L801.5,199.0 L799.8,199.0 L798.1,199.0 L796.4,199.0 L794.7,198.9 L793.0,198.9 L791.3,198.9 L789.6,198.9 L787.9,198.9 L786.1,198.9 L784.4,198.8 L782.7,198.8 L781.0,198.8 L779.3,198.8 L777.6,198.8 L775.9,198.7 L774.2,198.7 L772.5,198.7 L770.8,198.6 L769.1,198.6 L767.3,198.6 L765.6,198.5 L763.9,198.5 L762.2,198.4 L760.5,198.4 L758.8,198.4 L757.1,198.3 L755.4,198.3 L753.7,198.3 L751.9,198.3 L750.2,198.2 L748.5,198.2 L746.8,198.2 L745.1,198.1 L743.4,198.1 L741.6,198.1 L739.9,198.1 L738.2,198.0 L736.5,198.0 L734.8,198.0 L733.0,198.0 L731.3,198.0 L729.6,198.0 L727.9,198.0 L726.2,198.0 L724.4,198.0 L722.7,198.1 L721.0,198.1 L719.3,198.1 L717.5,198.1 L715.8,198.1 L714.1,198.1 L712.3,198.2 L710.6,198.2 L708.9,198.2 L707.1,198.2 L705.4,198.3 L703.7,198.3 L701.9,198.3 L700.2,198.4 L698.4,198.4 L696.7,198.4 L695.0,198.5 L693.2,198.5 L691.5,198.5 L689.7,198.6 L688.0,198.6 L686.2,198.7 L684.5,198.7 L682.7,198.8 L680.9,198.8 L679.2,198.9 L677.4,199.0 L675.7,199.0 L673.9,199.1 L672.1,199.2 L670.4,199.3 L668.6,199.4 L666.9,199.5 L665.1,199.6 L663.3,199.7 L661.6,199.9 L659.8,200.0 L658.0,200.2 L656.3,200.3 L654.5,200.5 L652.8,200.7 L651.0,200.9 L649.3,201.1 L647.5,201.3 L645.8,201.6 L644.0,201.8 L642.3,202.1 L640.6,202.4 L638.8,202.7 L637.1,203.0 L635.4,203.4 L633.7,203.8 L632.0,204.2 L630.3,204.6 L628.6,205.0 L626.9,205.5 L625.2,205.9 L623.5,206.4 L621.8,206.9 L620.2,207.5 L618.5,208.0 L616.9,208.6 L615.2,209.2 L613.6,209.8 L612.0,210.5 L610.4,211.2 L608.8,211.9 L607.2,212.6 L605.6,213.3 L604.0,214.1 L602.5,214.9 L600.9,215.7 L599.4,216.5 L597.9,217.4 L596.4,218.2 L594.9,219.1 L593.4,220.0 L591.9,221.0 L590.5,221.9 L589.0,222.9 L587.6,223.9 L586.2,224.9 L584.7,225.9 L583.3,227.0 L582.0,228.1 L580.6,229.1 L579.2,230.3 L577.9,231.4 L576.6,232.5 L575.2,233.7 L573.9,234.9 L572.7,236.1 L571.4,237.3 L570.1,238.5 L568.9,239.8 L567.7,241.0 L566.5,242.3 L565.3,243.6 L564.1,244.9 L562.9,246.3 L561.8,247.6 L560.7,249.0 L559.5,250.3 L558.4,251.7 L557.4,253.1 L556.3,254.5 L555.2,255.9 L554.2,257.4 L553.2,258.8 L552.1,260.3 L551.1,261.7 L550.1,263.2 L549.2,264.7 L548.2,266.2 L547.3,267.7 L546.3,269.2 L545.4,270.7 L544.5,272.2 L543.6,273.7 L542.7,275.2 L541.8,276.8 L540.9,278.3 L540.0,279.9 L539.1,281.4 L538.3,283.0 L537.4,284.5 L536.6,286.1 L535.8,287.7 L535.0,289.2 L534.1,290.8 L533.4,292.4 L532.6,294.0 L531.8,295.6 L531.0,297.2 L530.2,298.7 L529.5,300.3 L528.7,301.9 L527.9,303.5 L527.2,305.1 L526.4,306.7 L525.7,308.2 L524.9,309.8 L524.2,311.4 L523.4,313.0 L522.7,314.6 L521.9,316.1 L521.2,317.7 L520.4,319.3 L519.7,320.8 L518.9,322.4 L518.2,324.0 L517.5,325.5 L516.7,327.1 L516.0,328.7 L515.3,330.2 L514.5,331.8 L513.8,333.4 L513.1,334.9 L512.3,336.5 L511.6,338.1 L510.9,339.6 L510.1,341.2 L509.4,342.7 L508.7,344.3 L508.0,345.8 L507.2,347.4 L506.5,349.0 L505.8,350.5 L505.1,352.1 L504.3,353.6 L503.6,355.2 L502.9,356.7 L502.2,358.3 L501.4,359.8 L500.7,361.3 L500.0,362.9 L499.3,364.4 L498.6,366.0 L497.8,367.5 L497.1,369.0 L496.4,370.6 L495.7,372.1 L494.9,373.6 L494.2,375.2 L493.5,376.7 L492.7,378.2 L492.0,379.8 L491.2,381.3 L490.5,382.8 L489.7,384.3 L489.0,385.9 L488.2,387.4 L487.5,388.9 L486.7,390.4 L485.9,391.9 L485.2,393.4 L484.4,395.0 L483.6,396.5 L482.8,398.0 L482.0,399.5 L481.2,401.0 L480.4,402.5 L479.6,404.0 L478.8,405.5 L478.0,407.0 L477.2,408.5 L476.3,410.0 L475.5,411.5 L474.6,412.9 L473.8,414.4 L472.9,415.9 L472.1,417.3 L471.2,418.8 L470.3,420.2 L469.4,421.7 L468.5,423.1 L467.6,424.5 L466.7,426.0 L465.8,427.4 L464.9,428.8 L463.9,430.2 L463.0,431.5 L462.0,432.9 L461.0,434.3 L460.1,435.6 L459.1,437.0 L458.1,438.3 L457.1,439.7 L456.1,441.0 L455.0,442.3 L454.0,443.6 L453.0,444.8 L451.9,446.1 L450.8,447.4 L449.8,448.6 L448.7,449.8 L447.6,451.0 L446.4,452.2 L445.3,453.4 L444.2,454.6 L443.0,455.8 L441.9,456.9 L440.7,458.0 L439.5,459.2 L438.3,460.3 L437.1,461.3 L435.8,462.4 L434.6,463.5 L433.3,464.5 L432.1,465.5 L430.8,466.6 L429.5,467.6 L428.2,468.6 L426.8,469.5 L425.5,470.5 L424.1,471.4 L422.8,472.4 L421.4,473.3 L420.0,474.2 L418.6,475.1 L417.2,476.0 L415.8,476.8 L414.4,477.7 L412.9,478.5 L411.5,479.3 L410.0,480.1 L408.6,480.9 L407.1,481.7 L405.6,482.5 L404.1,483.3 L402.6,484.0 L401.1,484.7 L399.5,485.5 L398.0,486.2 L396.5,486.9 L394.9,487.6 L393.4,488.3 L391.9,489.0 L390.3,489.6 L388.7,490.3 L387.2,491.0 L385.6,491.6 L384.0,492.2 L382.4,492.8 L380.8,493.4 L379.2,494.0 L377.6,494.6 L376.0,495.2 L374.3,495.7 L372.7,496.2 L371.1,496.8 L369.5,497.3 L367.8,497.8 L366.2,498.3 L364.5,498.8 L362.9,499.2 L361.2,499.7 L359.6,500.1 L357.9,500.6 L356.2,501.0 L354.6,501.4 L352.9,501.8 L351.2,502.2 L349.6,502.6 L347.9,503.0 L346.2,503.3 L344.6,503.7 L342.9,504.0 L341.2,504.4 L339.5,504.7 L337.9,505.0 L336.2,505.3 L334.5,505.6 L332.8,505.9 L331.1,506.2 L329.5,506.5 L327.8,506.7 L326.1,506.9 L324.4,507.1 L322.7,507.3 L321.0,507.5 L319.3,507.7 L317.6,507.9 L315.9,508.1 L314.2,508.3 L312.5,508.4 L310.8,508.6 L309.1,508.7 L307.4,508.9 L305.7,509.0 L304.0,509.1 L302.3,509.3 L300.6,509.4 L298.9,509.5 L297.2,509.6 L295.5,509.7 L293.8,509.8 L292.1,509.9 L290.4,510.0 L288.7,510.1 L287.0,510.2 L285.3,510.3 L283.6,510.4 L281.9,510.4 L280.2,510.5 L278.5,510.6 L276.7,510.7 L275.0,510.7 L273.3,510.8 L271.6,510.9 L269.9,510.9 L268.2,511.0 L266.5,511.1 L264.8,511.1 L263.0,511.2 L261.3,511.2 L259.6,511.3 L257.9,511.4 L256.2,511.4 L254.5,511.5 L252.8,511.5 L251.0,511.5 L249.3,511.6 L247.6,511.6 L245.9,511.7 L244.2,511.7 L242.5,511.7 L240.7,511.8 L239.0,511.8 L237.3,511.8 L235.6,511.8 L233.9,511.8 L232.1,511.9 L230.4,511.9 L228.7,511.9 L227.0,511.9 L225.3,511.9 L223.5,511.9 L221.8,512.0 L220.1,512.0 L218.4,512.0 L216.7,512.0 L214.9,512.0 L213.2,512.0 L211.5,512.0 L209.8,512.0 L208.0,512.0 L206.3,512.0 L204.6,512.0 L202.9,512.0 L201.2,512.0 L199.4,512.0 L197.7,512.0 L196.0,512.0 L194.3,512.0 L192.5,512.0 L190.8,512.0 L189.1,512.1 L187.3,512.1 L185.6,512.1 L183.9,512.1 L182.2,512.1 L180.4,512.1 L178.7,512.1 L177.0,512.1Z" fill="#7fd0c8" opacity="0.25" filter="url(#glow)" transform="translate(0,2)"/>
  <path d="M176.9,515.5 L178.6,515.5 L180.4,515.6 L182.1,515.7 L183.8,515.8 L185.6,515.8 L187.3,515.9 L189.0,516.0 L190.7,516.1 L192.5,516.1 L194.2,516.2 L195.9,516.3 L197.6,516.3 L199.4,516.4 L201.1,516.4 L202.8,516.5 L204.5,516.5 L206.3,516.6 L208.0,516.6 L209.7,516.6 L211.4,516.7 L213.2,516.7 L214.9,516.7 L216.6,516.7 L218.4,516.8 L220.1,516.8 L221.8,516.8 L223.5,516.8 L225.3,516.9 L227.0,516.9 L228.7,516.9 L230.4,516.9 L232.2,516.9 L233.9,516.9 L235.6,517.0 L237.3,517.0 L239.1,517.0 L240.8,517.0 L242.5,517.0 L244.2,517.0 L245.9,517.0 L247.7,517.0 L249.4,517.0 L251.1,517.0 L252.8,517.0 L254.6,517.0 L256.3,516.9 L258.0,516.9 L259.7,516.9 L261.5,516.9 L263.2,516.9 L264.9,516.9 L266.6,516.8 L268.3,516.8 L270.1,516.8 L271.8,516.7 L273.5,516.7 L275.2,516.7 L276.9,516.6 L278.7,516.6 L280.4,516.5 L282.1,516.5 L283.8,516.4 L285.5,516.4 L287.3,516.3 L289.0,516.2 L290.7,516.2 L292.4,516.1 L294.2,516.0 L295.9,515.9 L297.6,515.8 L299.3,515.7 L301.0,515.6 L302.8,515.5 L304.5,515.4 L306.2,515.3 L307.9,515.2 L309.6,515.0 L311.4,514.9 L313.1,514.8 L314.8,514.6 L316.5,514.5 L318.3,514.3 L320.0,514.1 L321.7,514.0 L323.4,513.8 L325.1,513.6 L326.9,513.4 L328.6,513.2 L330.3,513.0 L332.0,512.8 L333.8,512.6 L335.5,512.4 L337.2,512.1 L339.0,511.9 L340.7,511.7 L342.4,511.4 L344.2,511.1 L345.9,510.9 L347.6,510.6 L349.3,510.3 L351.1,510.0 L352.8,509.7 L354.5,509.3 L356.3,509.0 L358.0,508.6 L359.7,508.3 L361.5,507.9 L363.2,507.5 L364.9,507.1 L366.6,506.7 L368.4,506.3 L370.1,505.8 L371.8,505.4 L373.5,504.9 L375.2,504.4 L376.9,503.9 L378.6,503.4 L380.3,502.9 L382.0,502.4 L383.7,501.9 L385.4,501.3 L387.1,500.8 L388.8,500.2 L390.4,499.6 L392.1,499.0 L393.8,498.4 L395.4,497.8 L397.1,497.1 L398.7,496.5 L400.4,495.8 L402.0,495.1 L403.6,494.4 L405.3,493.6 L406.9,492.9 L408.5,492.1 L410.0,491.3 L411.6,490.6 L413.2,489.7 L414.8,488.9 L416.3,488.1 L417.9,487.2 L419.4,486.4 L420.9,485.5 L422.5,484.6 L424.0,483.7 L425.5,482.8 L427.0,481.8 L428.4,480.9 L429.9,479.9 L431.4,478.9 L432.8,477.9 L434.2,476.9 L435.7,475.9 L437.1,474.8 L438.5,473.7 L439.9,472.7 L441.2,471.6 L442.6,470.5 L444.0,469.3 L445.3,468.2 L446.6,467.0 L447.9,465.8 L449.2,464.6 L450.5,463.4 L451.8,462.2 L453.0,461.0 L454.3,459.7 L455.5,458.4 L456.7,457.2 L457.9,455.9 L459.0,454.5 L460.2,453.2 L461.4,451.9 L462.5,450.5 L463.6,449.2 L464.7,447.8 L465.8,446.4 L466.9,445.0 L468.0,443.6 L469.0,442.2 L470.1,440.8 L471.1,439.4 L472.1,437.9 L473.2,436.5 L474.2,435.0 L475.1,433.6 L476.1,432.1 L477.1,430.6 L478.1,429.2 L479.0,427.7 L479.9,426.2 L480.9,424.7 L481.8,423.2 L482.7,421.7 L483.6,420.2 L484.5,418.6 L485.4,417.1 L486.3,415.6 L487.1,414.1 L488.0,412.5 L488.8,411.0 L489.7,409.5 L490.5,407.9 L491.3,406.4 L492.2,404.9 L493.0,403.3 L493.8,401.8 L494.6,400.2 L495.4,398.7 L496.2,397.1 L497.0,395.6 L497.8,394.1 L498.5,392.5 L499.3,391.0 L500.1,389.4 L500.8,387.9 L501.6,386.3 L502.3,384.8 L503.1,383.3 L503.8,381.7 L504.6,380.2 L505.3,378.6 L506.1,377.1 L506.8,375.5 L507.5,374.0 L508.3,372.4 L509.0,370.9 L509.7,369.3 L510.5,367.8 L511.2,366.2 L511.9,364.7 L512.6,363.1 L513.4,361.6 L514.1,360.0 L514.8,358.5 L515.5,356.9 L516.3,355.4 L517.0,353.8 L517.7,352.3 L518.4,350.7 L519.2,349.2 L519.9,347.6 L520.6,346.1 L521.3,344.5 L522.1,343.0 L522.8,341.4 L523.5,339.8 L524.3,338.3 L525.0,336.7 L525.7,335.2 L526.5,333.6 L527.2,332.0 L527.9,330.5 L528.7,328.9 L529.4,327.3 L530.1,325.8 L530.9,324.2 L531.6,322.6 L532.4,321.1 L533.1,319.5 L533.8,317.9 L534.6,316.4 L535.3,314.8 L536.1,313.2 L536.8,311.6 L537.6,310.1 L538.3,308.5 L539.1,306.9 L539.8,305.4 L540.6,303.8 L541.4,302.2 L542.1,300.7 L542.9,299.1 L543.7,297.5 L544.4,296.0 L545.2,294.4 L546.0,292.9 L546.7,291.3 L547.5,289.8 L548.3,288.3 L549.1,286.7 L549.9,285.2 L550.7,283.7 L551.5,282.2 L552.3,280.7 L553.1,279.2 L553.9,277.7 L554.8,276.2 L555.6,274.7 L556.5,273.3 L557.3,271.8 L558.2,270.3 L559.1,268.9 L559.9,267.5 L560.8,266.1 L561.7,264.7 L562.7,263.3 L563.6,261.9 L564.5,260.5 L565.5,259.1 L566.5,257.8 L567.4,256.4 L568.4,255.1 L569.4,253.8 L570.4,252.5 L571.5,251.2 L572.5,249.9 L573.6,248.7 L574.7,247.4 L575.8,246.2 L576.9,245.0 L578.0,243.8 L579.1,242.6 L580.3,241.4 L581.4,240.3 L582.6,239.2 L583.8,238.0 L585.0,236.9 L586.2,235.9 L587.4,234.8 L588.7,233.7 L589.9,232.7 L591.2,231.7 L592.5,230.7 L593.8,229.7 L595.1,228.8 L596.5,227.9 L597.8,227.0 L599.2,226.2 L600.6,225.3 L602.0,224.5 L603.4,223.7 L604.8,222.9 L606.3,222.1 L607.7,221.4 L609.2,220.7 L610.6,220.0 L612.1,219.3 L613.6,218.6 L615.1,217.9 L616.6,217.3 L618.1,216.7 L619.6,216.1 L621.2,215.5 L622.7,215.0 L624.3,214.5 L625.8,214.0 L627.4,213.5 L629.0,213.0 L630.6,212.5 L632.2,212.1 L633.8,211.7 L635.4,211.3 L637.0,211.0 L638.7,210.6 L640.3,210.3 L641.9,209.9 L643.6,209.6 L645.3,209.3 L646.9,209.1 L648.6,208.8 L650.3,208.6 L652.0,208.3 L653.7,208.1 L655.4,207.9 L657.1,207.7 L658.8,207.5 L660.5,207.4 L662.2,207.2 L663.9,207.1 L665.6,206.9 L667.3,206.8 L669.1,206.7 L670.8,206.5 L672.5,206.4 L674.3,206.3 L676.0,206.2 L677.8,206.2 L679.5,206.1 L681.2,206.0 L683.0,205.9 L684.7,205.8 L686.5,205.8 L688.2,205.7 L689.9,205.6 L691.7,205.5 L693.4,205.5 L695.2,205.4 L696.9,205.4 L698.6,205.3 L700.4,205.2 L702.1,205.2 L703.8,205.1 L705.6,205.1 L707.3,205.0 L709.0,205.0 L710.7,204.9 L712.5,204.9 L714.2,204.8 L715.9,204.8 L717.6,204.7 L719.4,204.7 L721.1,204.7 L722.8,204.6 L724.5,204.6 L726.2,204.5 L728.0,204.5 L729.7,204.5 L731.4,204.4 L733.1,204.4 L734.8,204.4 L736.5,204.3 L738.3,204.3 L740.0,204.2 L741.7,204.2 L743.4,204.1 L745.1,204.1 L746.8,204.0 L748.5,204.0 L750.3,203.9 L752.0,203.9 L753.7,203.8 L755.4,203.8 L757.1,203.7 L758.8,203.7 L760.5,203.7 L762.2,203.6 L763.9,203.6 L765.6,203.5 L767.4,203.5 L769.1,203.4 L770.8,203.4 L772.5,203.4 L774.2,203.3 L775.9,203.3 L777.6,203.3 L779.3,203.2 L781.0,203.2 L782.7,203.2 L784.4,203.2 L786.1,203.2 L787.8,203.2 L789.6,203.2 L791.3,203.2 L793.0,203.1 L794.7,203.1 L796.4,203.1 L798.1,203.1 L799.8,203.1 L801.5,203.1 L803.2,203.1 L804.9,203.1 L806.7,203.1 L808.4,203.0 L810.1,203.0 L811.8,203.0 L813.5,203.0 L815.2,203.0 L816.9,203.0 L818.6,203.0 L820.4,203.0 L822.1,202.9 L823.8,202.9 L825.5,202.9 L827.2,202.9 L828.9,202.9 L830.6,202.9 L832.4,202.9 L834.1,202.8 L835.8,202.8 L837.5,202.8 L839.3,202.8 L841.0,202.7 L842.7,202.7 L844.4,202.7 L846.1,202.6 L847.9,202.6 L849.6,202.5 L851.3,202.5 L853.1,202.5 L854.8,202.4 L856.5,202.4 L858.2,202.4 L860.0,202.3 L861.7,202.3 L863.4,202.2 L865.2,202.2 L866.9,202.1 L868.7,202.1 L870.4,202.0 L872.1,202.0 L873.9,201.9 L875.6,201.9 L877.4,201.7 L879.1,201.6 L880.9,201.4 L882.6,201.3 L884.4,201.1 L886.1,201.0 L886.1,200.0 L884.3,200.0 L882.6,199.9 L880.8,199.8 L879.1,199.7 L877.3,199.6 L875.6,199.5 L873.8,199.5 L872.1,199.5 L870.4,199.5 L868.6,199.5 L866.9,199.5 L865.2,199.5 L863.4,199.5 L861.7,199.5 L860.0,199.5 L858.2,199.5 L856.5,199.5 L854.8,199.5 L853.0,199.5 L851.3,199.4 L849.6,199.4 L847.9,199.4 L846.1,199.4 L844.4,199.4 L842.7,199.4 L841.0,199.3 L839.2,199.3 L837.5,199.3 L835.8,199.3 L834.1,199.3 L832.4,199.3 L830.6,199.2 L828.9,199.2 L827.2,199.2 L825.5,199.2 L823.8,199.2 L822.1,199.2 L820.4,199.2 L818.6,199.2 L816.9,199.1 L815.2,199.1 L813.5,199.1 L811.8,199.1 L810.1,199.1 L808.4,199.1 L806.7,199.1 L804.9,199.0 L803.2,199.0 L801.5,199.0 L799.8,199.0 L798.1,199.0 L796.4,199.0 L794.7,198.9 L793.0,198.9 L791.3,198.9 L789.6,198.9 L787.9,198.9 L786.1,198.9 L784.4,198.8 L782.7,198.8 L781.0,198.8 L779.3,198.8 L777.6,198.8 L775.9,198.7 L774.2,198.7 L772.5,198.7 L770.8,198.6 L769.1,198.6 L767.3,198.6 L765.6,198.5 L763.9,198.5 L762.2,198.4 L760.5,198.4 L758.8,198.4 L757.1,198.3 L755.4,198.3 L753.7,198.3 L751.9,198.3 L750.2,198.2 L748.5,198.2 L746.8,198.2 L745.1,198.1 L743.4,198.1 L741.6,198.1 L739.9,198.1 L738.2,198.0 L736.5,198.0 L734.8,198.0 L733.0,198.0 L731.3,198.0 L729.6,198.0 L727.9,198.0 L726.2,198.0 L724.4,198.0 L722.7,198.1 L721.0,198.1 L719.3,198.1 L717.5,198.1 L715.8,198.1 L714.1,198.1 L712.3,198.2 L710.6,198.2 L708.9,198.2 L707.1,198.2 L705.4,198.3 L703.7,198.3 L701.9,198.3 L700.2,198.4 L698.4,198.4 L696.7,198.4 L695.0,198.5 L693.2,198.5 L691.5,198.5 L689.7,198.6 L688.0,198.6 L686.2,198.7 L684.5,198.7 L682.7,198.8 L680.9,198.8 L679.2,198.9 L677.4,199.0 L675.7,199.0 L673.9,199.1 L672.1,199.2 L670.4,199.3 L668.6,199.4 L666.9,199.5 L665.1,199.6 L663.3,199.7 L661.6,199.9 L659.8,200.0 L658.0,200.2 L656.3,200.3 L654.5,200.5 L652.8,200.7 L651.0,200.9 L649.3,201.1 L647.5,201.3 L645.8,201.6 L644.0,201.8 L642.3,202.1 L640.6,202.4 L638.8,202.7 L637.1,203.0 L635.4,203.4 L633.7,203.8 L632.0,204.2 L630.3,204.6 L628.6,205.0 L626.9,205.5 L625.2,205.9 L623.5,206.4 L621.8,206.9 L620.2,207.5 L618.5,208.0 L616.9,208.6 L615.2,209.2 L613.6,209.8 L612.0,210.5 L610.4,211.2 L608.8,211.9 L607.2,212.6 L605.6,213.3 L604.0,214.1 L602.5,214.9 L600.9,215.7 L599.4,216.5 L597.9,217.4 L596.4,218.2 L594.9,219.1 L593.4,220.0 L591.9,221.0 L590.5,221.9 L589.0,222.9 L587.6,223.9 L586.2,224.9 L584.7,225.9 L583.3,227.0 L582.0,228.1 L580.6,229.1 L579.2,230.3 L577.9,231.4 L576.6,232.5 L575.2,233.7 L573.9,234.9 L572.7,236.1 L571.4,237.3 L570.1,238.5 L568.9,239.8 L567.7,241.0 L566.5,242.3 L565.3,243.6 L564.1,244.9 L562.9,246.3 L561.8,247.6 L560.7,249.0 L559.5,250.3 L558.4,251.7 L557.4,253.1 L556.3,254.5 L555.2,255.9 L554.2,257.4 L553.2,258.8 L552.1,260.3 L551.1,261.7 L550.1,263.2 L549.2,264.7 L548.2,266.2 L547.3,267.7 L546.3,269.2 L545.4,270.7 L544.5,272.2 L543.6,273.7 L542.7,275.2 L541.8,276.8 L540.9,278.3 L540.0,279.9 L539.1,281.4 L538.3,283.0 L537.4,284.5 L536.6,286.1 L535.8,287.7 L535.0,289.2 L534.1,290.8 L533.4,292.4 L532.6,294.0 L531.8,295.6 L531.0,297.2 L530.2,298.7 L529.5,300.3 L528.7,301.9 L527.9,303.5 L527.2,305.1 L526.4,306.7 L525.7,308.2 L524.9,309.8 L524.2,311.4 L523.4,313.0 L522.7,314.6 L521.9,316.1 L521.2,317.7 L520.4,319.3 L519.7,320.8 L518.9,322.4 L518.2,324.0 L517.5,325.5 L516.7,327.1 L516.0,328.7 L515.3,330.2 L514.5,331.8 L513.8,333.4 L513.1,334.9 L512.3,336.5 L511.6,338.1 L510.9,339.6 L510.1,341.2 L509.4,342.7 L508.7,344.3 L508.0,345.8 L507.2,347.4 L506.5,349.0 L505.8,350.5 L505.1,352.1 L504.3,353.6 L503.6,355.2 L502.9,356.7 L502.2,358.3 L501.4,359.8 L500.7,361.3 L500.0,362.9 L499.3,364.4 L498.6,366.0 L497.8,367.5 L497.1,369.0 L496.4,370.6 L495.7,372.1 L494.9,373.6 L494.2,375.2 L493.5,376.7 L492.7,378.2 L492.0,379.8 L491.2,381.3 L490.5,382.8 L489.7,384.3 L489.0,385.9 L488.2,387.4 L487.5,388.9 L486.7,390.4 L485.9,391.9 L485.2,393.4 L484.4,395.0 L483.6,396.5 L482.8,398.0 L482.0,399.5 L481.2,401.0 L480.4,402.5 L479.6,404.0 L478.8,405.5 L478.0,407.0 L477.2,408.5 L476.3,410.0 L475.5,411.5 L474.6,412.9 L473.8,414.4 L472.9,415.9 L472.1,417.3 L471.2,418.8 L470.3,420.2 L469.4,421.7 L468.5,423.1 L467.6,424.5 L466.7,426.0 L465.8,427.4 L464.9,428.8 L463.9,430.2 L463.0,431.5 L462.0,432.9 L461.0,434.3 L460.1,435.6 L459.1,437.0 L458.1,438.3 L457.1,439.7 L456.1,441.0 L455.0,442.3 L454.0,443.6 L453.0,444.8 L451.9,446.1 L450.8,447.4 L449.8,448.6 L448.7,449.8 L447.6,451.0 L446.4,452.2 L445.3,453.4 L444.2,454.6 L443.0,455.8 L441.9,456.9 L440.7,458.0 L439.5,459.2 L438.3,460.3 L437.1,461.3 L435.8,462.4 L434.6,463.5 L433.3,464.5 L432.1,465.5 L430.8,466.6 L429.5,467.6 L428.2,468.6 L426.8,469.5 L425.5,470.5 L424.1,471.4 L422.8,472.4 L421.4,473.3 L420.0,474.2 L418.6,475.1 L417.2,476.0 L415.8,476.8 L414.4,477.7 L412.9,478.5 L411.5,479.3 L410.0,480.1 L408.6,480.9 L407.1,481.7 L405.6,482.5 L404.1,483.3 L402.6,484.0 L401.1,484.7 L399.5,485.5 L398.0,486.2 L396.5,486.9 L394.9,487.6 L393.4,488.3 L391.9,489.0 L390.3,489.6 L388.7,490.3 L387.2,491.0 L385.6,491.6 L384.0,492.2 L382.4,492.8 L380.8,493.4 L379.2,494.0 L377.6,494.6 L376.0,495.2 L374.3,495.7 L372.7,496.2 L371.1,496.8 L369.5,497.3 L367.8,497.8 L366.2,498.3 L364.5,498.8 L362.9,499.2 L361.2,499.7 L359.6,500.1 L357.9,500.6 L356.2,501.0 L354.6,501.4 L352.9,501.8 L351.2,502.2 L349.6,502.6 L347.9,503.0 L346.2,503.3 L344.6,503.7 L342.9,504.0 L341.2,504.4 L339.5,504.7 L337.9,505.0 L336.2,505.3 L334.5,505.6 L332.8,505.9 L331.1,506.2 L329.5,506.5 L327.8,506.7 L326.1,506.9 L324.4,507.1 L322.7,507.3 L321.0,507.5 L319.3,507.7 L317.6,507.9 L315.9,508.1 L314.2,508.3 L312.5,508.4 L310.8,508.6 L309.1,508.7 L307.4,508.9 L305.7,509.0 L304.0,509.1 L302.3,509.3 L300.6,509.4 L298.9,509.5 L297.2,509.6 L295.5,509.7 L293.8,509.8 L292.1,509.9 L290.4,510.0 L288.7,510.1 L287.0,510.2 L285.3,510.3 L283.6,510.4 L281.9,510.4 L280.2,510.5 L278.5,510.6 L276.7,510.7 L275.0,510.7 L273.3,510.8 L271.6,510.9 L269.9,510.9 L268.2,511.0 L266.5,511.1 L264.8,511.1 L263.0,511.2 L261.3,511.2 L259.6,511.3 L257.9,511.4 L256.2,511.4 L254.5,511.5 L252.8,511.5 L251.0,511.5 L249.3,511.6 L247.6,511.6 L245.9,511.7 L244.2,511.7 L242.5,511.7 L240.7,511.8 L239.0,511.8 L237.3,511.8 L235.6,511.8 L233.9,511.8 L232.1,511.9 L230.4,511.9 L228.7,511.9 L227.0,511.9 L225.3,511.9 L223.5,511.9 L221.8,512.0 L220.1,512.0 L218.4,512.0 L216.7,512.0 L214.9,512.0 L213.2,512.0 L211.5,512.0 L209.8,512.0 L208.0,512.0 L206.3,512.0 L204.6,512.0 L202.9,512.0 L201.2,512.0 L199.4,512.0 L197.7,512.0 L196.0,512.0 L194.3,512.0 L192.5,512.0 L190.8,512.0 L189.1,512.1 L187.3,512.1 L185.6,512.1 L183.9,512.1 L182.2,512.1 L180.4,512.1 L178.7,512.1 L177.0,512.1Z" fill="url(#curveG)"/>
  <g clip-path="url(#curveClip)">
    <path d="M176.9,516.1 L178.6,516.2 L180.4,516.3 L182.1,516.4 L183.8,516.5 L185.5,516.6 L187.3,516.7 L189.0,516.8 L190.7,516.9 L192.4,516.9 L194.2,517.0 L195.9,517.1 L197.6,517.2 L199.4,517.3 L201.1,517.3 L202.8,517.4 L204.5,517.4 L206.3,517.5 L208.0,517.5 L209.7,517.6 L211.4,517.6 L213.2,517.6 L214.9,517.7 L216.6,517.7 L218.3,517.7 L220.1,517.8 L221.8,517.8 L223.5,517.8 L225.3,517.9 L227.0,517.9 L228.7,517.9 L230.4,517.9 L232.2,517.9 L233.9,518.0 L235.6,518.0 L237.3,518.0 L239.1,518.0 L240.8,518.0 L242.5,518.0 L244.2,518.0 L246.0,518.0 L247.7,518.0 L249.4,518.1 L251.1,518.1 L252.9,518.1 L254.6,518.1 L256.3,518.1 L258.0,518.0 L259.8,518.0 L261.5,518.0 L263.2,518.0 L264.9,518.0 L266.6,518.0 L268.4,518.0 L270.1,517.9 L271.8,517.9 L273.5,517.9 L275.3,517.9 L277.0,517.8 L278.7,517.8 L280.4,517.8 L282.2,517.7 L283.9,517.6 L285.6,517.6 L287.3,517.5 L289.0,517.5 L290.8,517.4 L292.5,517.3 L294.2,517.2 L295.9,517.1 L297.7,517.1 L299.4,517.0 L301.1,516.9 L302.8,516.8 L304.6,516.7 L306.3,516.5 L308.0,516.4 L309.7,516.3 L311.5,516.2 L313.2,516.0 L314.9,515.9 L316.7,515.7 L318.4,515.6 L320.1,515.4 L321.8,515.2 L323.6,515.1 L325.3,514.9 L327.0,514.7 L328.8,514.5 L330.5,514.3 L332.2,514.1 L334.0,513.9 L335.7,513.7 L337.4,513.5 L339.2,513.3 L340.9,513.0 L342.7,512.8 L344.4,512.6 L346.1,512.3 L347.9,512.0 L349.6,511.8 L351.4,511.5 L353.1,511.2 L354.9,510.8 L356.6,510.5 L358.4,510.2 L360.1,509.8 L361.8,509.4 L363.6,509.1 L365.3,508.7 L367.1,508.3 L368.8,507.9 L370.5,507.4 L372.3,507.0 L374.0,506.5 L375.7,506.1 L377.4,505.6 L379.2,505.1 L380.9,504.6 L382.6,504.1 L384.3,503.6 L386.0,503.0 L387.7,502.5 L389.4,501.9 L391.1,501.3 L392.8,500.7 L394.5,500.1 L396.2,499.5 L397.8,498.9 L399.5,498.2 L401.2,497.6 L402.8,496.9 L404.5,496.2 L406.1,495.4 L407.7,494.7 L409.3,493.9 L410.9,493.1 L412.5,492.3 L414.1,491.5 L415.7,490.7 L417.3,489.8 L418.9,489.0 L420.4,488.1 L422.0,487.2 L423.5,486.3 L425.0,485.4 L426.6,484.5 L428.1,483.5 L429.6,482.6 L431.1,481.6 L432.5,480.6 L434.0,479.6 L435.5,478.6 L436.9,477.5 L438.3,476.5 L439.8,475.4 L441.2,474.3 L442.6,473.2 L444.0,472.1 L445.3,470.9 L446.7,469.8 L448.0,468.6 L449.4,467.4 L450.7,466.2 L452.0,465.0 L453.3,463.7 L454.6,462.5 L455.8,461.2 L457.1,459.9 L458.3,458.6 L459.5,457.3 L460.7,456.0 L461.9,454.6 L463.0,453.3 L464.2,451.9 L465.3,450.6 L466.5,449.2 L467.6,447.8 L468.7,446.4 L469.8,445.0 L470.8,443.6 L471.9,442.1 L472.9,440.7 L474.0,439.2 L475.0,437.8 L476.0,436.3 L477.0,434.8 L478.0,433.4 L479.0,431.9 L480.0,430.4 L480.9,428.9 L481.9,427.4 L482.8,425.9 L483.7,424.3 L484.7,422.8 L485.6,421.3 L486.5,419.8 L487.4,418.3 L488.2,416.7 L489.1,415.2 L490.0,413.6 L490.8,412.1 L491.7,410.6 L492.5,409.0 L493.4,407.5 L494.2,405.9 L495.0,404.4 L495.8,402.8 L496.6,401.3 L497.4,399.7 L498.2,398.2 L499.0,396.6 L499.8,395.1 L500.6,393.6 L501.4,392.0 L502.1,390.5 L502.9,388.9 L503.7,387.4 L504.4,385.8 L505.2,384.3 L505.9,382.7 L506.7,381.2 L507.4,379.6 L508.2,378.1 L508.9,376.5 L509.6,375.0 L510.4,373.4 L511.1,371.9 L511.8,370.3 L512.6,368.8 L513.3,367.2 L514.0,365.7 L514.7,364.1 L515.5,362.6 L516.2,361.0 L516.9,359.5 L517.6,357.9 L518.4,356.4 L519.1,354.8 L519.8,353.3 L520.5,351.7 L521.3,350.2 L522.0,348.6 L522.7,347.1 L523.4,345.5 L524.2,343.9 L524.9,342.4 L525.6,340.8 L526.4,339.3 L527.1,337.7 L527.8,336.1 L528.5,334.6 L529.3,333.0 L530.0,331.5 L530.8,329.9 L531.5,328.3 L532.2,326.8 L533.0,325.2 L533.7,323.6 L534.4,322.1 L535.2,320.5 L535.9,318.9 L536.7,317.3 L537.4,315.8 L538.2,314.2 L538.9,312.6 L539.7,311.1 L540.4,309.5 L541.2,307.9 L541.9,306.4 L542.7,304.8 L543.4,303.2 L544.2,301.7 L545.0,300.1 L545.7,298.6 L546.5,297.0 L547.3,295.5 L548.0,293.9 L548.8,292.4 L549.5,290.9 L550.3,289.3 L551.1,287.8 L551.8,286.3 L552.6,284.8 L553.4,283.3 L554.2,281.8 L555.0,280.3 L555.8,278.8 L556.6,277.3 L557.5,275.8 L558.3,274.4 L559.1,272.9 L560.0,271.5 L560.8,270.1 L561.7,268.6 L562.6,267.2 L563.5,265.8 L564.4,264.4 L565.3,263.1 L566.2,261.7 L567.1,260.3 L568.1,259.0 L569.0,257.7 L570.0,256.3 L570.9,255.0 L571.9,253.7 L573.0,252.5 L574.0,251.2 L575.0,250.0 L576.1,248.7 L577.1,247.5 L578.2,246.3 L579.3,245.1 L580.4,243.9 L581.5,242.8 L582.7,241.6 L583.8,240.5 L585.0,239.4 L586.1,238.3 L587.3,237.2 L588.5,236.1 L589.8,235.1 L591.0,234.1 L592.2,233.1 L593.5,232.1 L594.8,231.1 L596.1,230.2 L597.4,229.3 L598.7,228.4 L600.1,227.6 L601.4,226.7 L602.8,225.9 L604.2,225.1 L605.6,224.3 L607.0,223.6 L608.4,222.9 L609.9,222.1 L611.3,221.4 L612.8,220.8 L614.2,220.1 L615.7,219.4 L617.2,218.8 L618.7,218.2 L620.2,217.6 L621.7,217.0 L623.2,216.5 L624.8,216.0 L626.3,215.5 L627.9,215.0 L629.4,214.5 L631.0,214.1 L632.6,213.6 L634.1,213.2 L635.7,212.8 L637.4,212.5 L639.0,212.1 L640.6,211.8 L642.2,211.4 L643.9,211.1 L645.5,210.8 L647.2,210.6 L648.8,210.3 L650.5,210.1 L652.2,209.8 L653.8,209.6 L655.5,209.4 L657.2,209.2 L658.9,209.0 L660.6,208.8 L662.3,208.7 L664.0,208.5 L665.7,208.4 L667.4,208.2 L669.2,208.1 L670.9,208.0 L672.6,207.9 L674.3,207.8 L676.1,207.7 L677.8,207.6 L679.6,207.5 L681.3,207.4 L683.0,207.3 L684.8,207.2 L686.5,207.2 L688.2,207.1 L690.0,207.0 L691.7,206.9 L693.5,206.9 L695.2,206.8 L696.9,206.7 L698.7,206.7 L700.4,206.6 L702.1,206.6 L703.9,206.5 L705.6,206.4 L707.3,206.4 L709.0,206.3 L710.8,206.3 L712.5,206.2 L714.2,206.2 L715.9,206.1 L717.7,206.1 L719.4,206.0 L721.1,206.0 L722.8,205.9 L724.5,205.9 L726.3,205.9 L728.0,205.8 L729.7,205.8 L731.4,205.7 L733.1,205.7 L734.8,205.7 L736.6,205.6 L738.3,205.5 L740.0,205.4 L741.7,205.4 L743.4,205.3 L745.1,205.2 L746.8,205.2 L748.5,205.1 L750.3,205.1 L752.0,205.0 L753.7,204.9 L755.4,204.9 L757.1,204.8 L758.8,204.8 L760.5,204.7 L762.2,204.6 L763.9,204.6 L765.6,204.5 L767.4,204.5 L769.1,204.4 L770.8,204.4 L772.5,204.3 L774.2,204.3 L775.9,204.2 L777.6,204.2 L779.3,204.1 L781.0,204.1 L782.7,204.1 L784.4,204.1 L786.1,204.1 L787.8,204.0 L789.6,204.0 L791.3,204.0 L793.0,204.0 L794.7,204.0 L796.4,204.0 L798.1,203.9 L799.8,203.9 L801.5,203.9 L803.2,203.9 L804.9,203.9 L806.7,203.9 L808.4,203.8 L810.1,203.8 L811.8,203.8 L813.5,203.8 L815.2,203.8 L816.9,203.8 L818.6,203.7 L820.4,203.7 L822.1,203.7 L823.8,203.7 L825.5,203.7 L827.2,203.6 L828.9,203.6 L830.7,203.6 L832.4,203.6 L834.1,203.5 L835.8,203.5 L837.5,203.5 L839.3,203.4 L841.0,203.4 L842.7,203.4 L844.4,203.3 L846.1,203.3 L847.9,203.2 L849.6,203.2 L851.3,203.1 L853.1,203.1 L854.8,203.0 L856.5,203.0 L858.3,202.9 L860.0,202.9 L861.7,202.8 L863.5,202.8 L865.2,202.7 L866.9,202.6 L868.7,202.6 L870.4,202.5 L872.1,202.5 L873.9,202.4 L875.6,202.3 L877.4,202.2 L879.1,202.0 L880.9,201.8 L882.6,201.6 L884.4,201.4 L886.1,201.2 L886.1,200.6 L884.3,200.6 L882.6,200.7 L880.8,200.7 L879.1,200.7 L877.4,200.8 L875.6,200.8 L873.9,200.9 L872.1,200.9 L870.4,200.9 L868.6,200.9 L866.9,201.0 L865.2,201.0 L863.4,201.0 L861.7,201.0 L860.0,201.0 L858.2,201.1 L856.5,201.1 L854.8,201.1 L853.0,201.1 L851.3,201.1 L849.6,201.1 L847.9,201.2 L846.1,201.2 L844.4,201.2 L842.7,201.2 L841.0,201.2 L839.2,201.2 L837.5,201.2 L835.8,201.2 L834.1,201.2 L832.4,201.2 L830.6,201.2 L828.9,201.2 L827.2,201.2 L825.5,201.3 L823.8,201.3 L822.1,201.3 L820.4,201.3 L818.6,201.3 L816.9,201.3 L815.2,201.3 L813.5,201.3 L811.8,201.3 L810.1,201.3 L808.4,201.3 L806.7,201.3 L804.9,201.3 L803.2,201.3 L801.5,201.3 L799.8,201.3 L798.1,201.2 L796.4,201.2 L794.7,201.2 L793.0,201.2 L791.3,201.2 L789.6,201.2 L787.9,201.2 L786.1,201.2 L784.4,201.2 L782.7,201.2 L781.0,201.2 L779.3,201.2 L777.6,201.2 L775.9,201.2 L774.2,201.2 L772.5,201.3 L770.8,201.3 L769.1,201.3 L767.3,201.3 L765.6,201.3 L763.9,201.3 L762.2,201.3 L760.5,201.3 L758.8,201.3 L757.1,201.3 L755.4,201.3 L753.7,201.3 L752.0,201.3 L750.2,201.4 L748.5,201.4 L746.8,201.4 L745.1,201.4 L743.4,201.4 L741.7,201.4 L740.0,201.4 L738.2,201.5 L736.5,201.5 L734.8,201.5 L733.1,201.5 L731.4,201.5 L729.6,201.6 L727.9,201.6 L726.2,201.6 L724.5,201.6 L722.8,201.7 L721.0,201.7 L719.3,201.7 L717.6,201.8 L715.9,201.8 L714.1,201.8 L712.4,201.9 L710.7,201.9 L708.9,201.9 L707.2,202.0 L705.5,202.0 L703.7,202.1 L702.0,202.1 L700.3,202.1 L698.5,202.2 L696.8,202.2 L695.1,202.3 L693.3,202.3 L691.6,202.4 L689.8,202.5 L688.1,202.5 L686.3,202.6 L684.6,202.6 L682.9,202.7 L681.1,202.8 L679.4,202.8 L677.6,202.9 L675.9,203.0 L674.1,203.1 L672.4,203.2 L670.6,203.3 L668.9,203.4 L667.1,203.5 L665.4,203.6 L663.6,203.8 L661.9,203.9 L660.2,204.1 L658.4,204.2 L656.7,204.4 L655.0,204.6 L653.3,204.8 L651.5,205.0 L649.8,205.2 L648.1,205.4 L646.4,205.7 L644.7,206.0 L643.0,206.3 L641.3,206.6 L639.6,206.9 L638.0,207.2 L636.3,207.6 L634.6,207.9 L633.0,208.3 L631.3,208.7 L629.7,209.2 L628.0,209.6 L626.4,210.1 L624.8,210.6 L623.2,211.1 L621.6,211.6 L620.0,212.2 L618.4,212.7 L616.8,213.3 L615.2,214.0 L613.7,214.6 L612.1,215.3 L610.6,215.9 L609.1,216.6 L607.6,217.4 L606.0,218.1 L604.6,218.9 L603.1,219.6 L601.6,220.5 L600.1,221.3 L598.7,222.1 L597.3,223.0 L595.8,223.9 L594.4,224.8 L593.0,225.7 L591.7,226.7 L590.3,227.7 L588.9,228.7 L587.6,229.7 L586.3,230.7 L585.0,231.8 L583.7,232.8 L582.4,233.9 L581.1,235.0 L579.9,236.2 L578.6,237.3 L577.4,238.5 L576.2,239.7 L575.0,240.9 L573.8,242.1 L572.7,243.3 L571.5,244.6 L570.4,245.8 L569.3,247.1 L568.2,248.4 L567.1,249.7 L566.0,251.0 L564.9,252.4 L563.9,253.7 L562.8,255.1 L561.8,256.4 L560.8,257.8 L559.8,259.2 L558.8,260.6 L557.9,262.0 L556.9,263.5 L556.0,264.9 L555.0,266.3 L554.1,267.8 L553.2,269.3 L552.3,270.7 L551.4,272.2 L550.5,273.7 L549.7,275.2 L548.8,276.7 L547.9,278.2 L547.1,279.7 L546.3,281.3 L545.4,282.8 L544.6,284.3 L543.8,285.9 L543.0,287.4 L542.2,289.0 L541.4,290.5 L540.6,292.1 L539.8,293.7 L539.0,295.2 L538.2,296.8 L537.5,298.4 L536.7,299.9 L535.9,301.5 L535.2,303.1 L534.4,304.7 L533.7,306.2 L532.9,307.8 L532.1,309.4 L531.4,311.0 L530.6,312.6 L529.9,314.1 L529.1,315.7 L528.4,317.3 L527.7,318.8 L526.9,320.4 L526.2,322.0 L525.4,323.6 L524.7,325.1 L524.0,326.7 L523.2,328.3 L522.5,329.8 L521.7,331.4 L521.0,332.9 L520.3,334.5 L519.5,336.1 L518.8,337.6 L518.1,339.2 L517.4,340.8 L516.6,342.3 L515.9,343.9 L515.2,345.4 L514.4,347.0 L513.7,348.5 L513.0,350.1 L512.3,351.6 L511.5,353.2 L510.8,354.7 L510.1,356.3 L509.4,357.8 L508.7,359.4 L507.9,360.9 L507.2,362.5 L506.5,364.0 L505.8,365.6 L505.0,367.1 L504.3,368.7 L503.6,370.2 L502.8,371.8 L502.1,373.3 L501.4,374.8 L500.6,376.4 L499.9,377.9 L499.2,379.5 L498.4,381.0 L497.7,382.5 L496.9,384.1 L496.2,385.6 L495.4,387.1 L494.7,388.7 L493.9,390.2 L493.1,391.7 L492.4,393.3 L491.6,394.8 L490.8,396.3 L490.0,397.9 L489.2,399.4 L488.4,400.9 L487.6,402.4 L486.8,404.0 L486.0,405.5 L485.2,407.0 L484.3,408.5 L483.5,410.0 L482.6,411.6 L481.8,413.1 L480.9,414.6 L480.1,416.1 L479.2,417.6 L478.3,419.1 L477.4,420.5 L476.5,422.0 L475.6,423.5 L474.7,425.0 L473.8,426.4 L472.8,427.9 L471.9,429.3 L470.9,430.8 L470.0,432.2 L469.0,433.6 L468.0,435.1 L467.0,436.5 L466.0,437.9 L465.0,439.3 L464.0,440.6 L462.9,442.0 L461.9,443.4 L460.8,444.7 L459.8,446.1 L458.7,447.4 L457.6,448.7 L456.5,450.0 L455.4,451.3 L454.2,452.6 L453.1,453.9 L451.9,455.1 L450.7,456.4 L449.6,457.6 L448.4,458.8 L447.1,460.0 L445.9,461.2 L444.7,462.3 L443.4,463.5 L442.1,464.6 L440.9,465.7 L439.6,466.8 L438.3,467.9 L436.9,469.0 L435.6,470.1 L434.2,471.1 L432.9,472.1 L431.5,473.1 L430.1,474.1 L428.7,475.1 L427.3,476.1 L425.9,477.0 L424.5,478.0 L423.0,478.9 L421.6,479.8 L420.1,480.7 L418.6,481.6 L417.1,482.5 L415.6,483.3 L414.1,484.2 L412.6,485.0 L411.1,485.8 L409.6,486.6 L408.0,487.4 L406.5,488.1 L404.9,488.9 L403.4,489.6 L401.8,490.4 L400.2,491.1 L398.6,491.8 L397.0,492.5 L395.4,493.1 L393.8,493.8 L392.2,494.5 L390.6,495.1 L389.0,495.7 L387.3,496.3 L385.7,496.9 L384.1,497.5 L382.4,498.1 L380.7,498.6 L379.1,499.2 L377.4,499.7 L375.8,500.2 L374.1,500.7 L372.4,501.2 L370.7,501.7 L369.1,502.2 L367.4,502.7 L365.7,503.1 L364.0,503.6 L362.3,504.0 L360.6,504.4 L358.9,504.8 L357.2,505.2 L355.5,505.6 L353.8,506.0 L352.1,506.3 L350.4,506.7 L348.7,507.0 L347.0,507.3 L345.3,507.6 L343.6,508.0 L341.9,508.2 L340.2,508.5 L338.5,508.8 L336.8,509.1 L335.0,509.3 L333.3,509.6 L331.6,509.8 L329.9,510.0 L328.2,510.3 L326.5,510.5 L324.8,510.7 L323.1,510.9 L321.4,511.1 L319.7,511.3 L318.0,511.4 L316.3,511.6 L314.5,511.8 L312.8,511.9 L311.1,512.1 L309.4,512.2 L307.7,512.3 L306.0,512.5 L304.3,512.6 L302.6,512.7 L300.9,512.8 L299.1,512.9 L297.4,513.0 L295.7,513.1 L294.0,513.2 L292.3,513.3 L290.6,513.4 L288.9,513.5 L287.1,513.6 L285.4,513.6 L283.7,513.7 L282.0,513.8 L280.3,513.8 L278.6,513.9 L276.9,513.9 L275.1,514.0 L273.4,514.1 L271.7,514.1 L270.0,514.1 L268.3,514.2 L266.6,514.2 L264.8,514.3 L263.1,514.3 L261.4,514.4 L259.7,514.4 L258.0,514.4 L256.2,514.4 L254.5,514.5 L252.8,514.5 L251.1,514.5 L249.4,514.5 L247.6,514.6 L245.9,514.6 L244.2,514.6 L242.5,514.6 L240.8,514.6 L239.0,514.6 L237.3,514.6 L235.6,514.6 L233.9,514.7 L232.1,514.7 L230.4,514.7 L228.7,514.7 L227.0,514.7 L225.3,514.6 L223.5,514.6 L221.8,514.6 L220.1,514.6 L218.4,514.6 L216.6,514.6 L214.9,514.6 L213.2,514.6 L211.5,514.6 L209.7,514.5 L208.0,514.5 L206.3,514.5 L204.6,514.5 L202.8,514.5 L201.1,514.4 L199.4,514.4 L197.7,514.4 L195.9,514.3 L194.2,514.3 L192.5,514.3 L190.8,514.2 L189.0,514.2 L187.3,514.2 L185.6,514.1 L183.9,514.1 L182.1,514.1 L180.4,514.0 L178.7,514.0 L176.9,513.9Z" fill="url(#curveIn)" filter="url(#soft)"/>
  </g>

  <!-- Axes -->
  <rect x="185" y="152" width="2" height="376.5" fill="#2b3961"/>
  <path d="M185.8,143.1 L191.4,153.6 L180.1,153.6 Z" fill="#0f3258"/>
  <rect x="172" y="526.95" width="16" height="1.75" fill="url(#xaxisG)"/>
  <rect x="186" y="526.95" width="714" height="1.75" fill="#2c3c66"/>
  <path d="M910.6,527.85 L898.6,522 L898.6,533.7 Z" fill="#0b3a70"/>

  <!-- dashed guides -->
  <line x1="187.3" x2="512" y1="334.8" y2="334.8" stroke="url(#hdashL)" stroke-width="2" stroke-dasharray="8.5 3.7"/>
  <line x1="524.4" x2="870" y1="334.8" y2="334.8" stroke="url(#hdashR)" stroke-width="2" stroke-dasharray="8.5 3.72"/>
  <line x1="515.3" x2="515.3" y1="349.1" y2="527" stroke="#14856e" stroke-width="2.1" stroke-dasharray="8 4"/>

  <!-- EC50 box -->
  <g filter="url(#boxShadow)">
    <path d="M357.5,355.8 H469.5 Q472.5,355.8 472.5,358.8 V398.5 H354.5 V358.8 Q354.5,355.8 357.5,355.8 Z" fill="url(#boxTop)"/>
    <path d="M354.5,398.5 H472.5 V447.2 Q472.5,450.2 469.5,450.2 H357.5 Q354.5,450.2 354.5,447.2 Z" fill="url(#boxBot)"/>
  </g>
  <rect x="354.5" y="398" width="118" height="0.8" fill="#9fe0e0" opacity="0.6"/>
  <g filter="url(#txtShadow)">
    <text transform="translate(377.23,388.90) scale(0.8779,1)" font-size="33.60" font-weight="700" fill="#ffffff">EC</text>
    <text transform="translate(419.69,387.90) scale(0.9214,1)" font-size="24.86" fill="#ffffff" stroke="#ffffff" stroke-width="1.0">5</text>
    <text transform="translate(433.68,387.98) scale(1.5618,1)" font-size="16.90" fill="#ffffff" stroke="#ffffff" stroke-width="1.0">0</text>
  </g>
  <g filter="url(#txtShadow2)">
    <text transform="translate(364.58,418.70) scale(1.0326,1)" font-size="15.80" fill="#ffffff" stroke="#ffffff" stroke-width="0.45">Half</text>
    <text transform="translate(399.29,418.70) scale(1.0186,1)" font-size="15.80" fill="#ffffff" stroke="#ffffff" stroke-width="0.45">Maxiable</text>
    <text transform="translate(364.48,438.40) scale(1.0125,1)" font-size="15.80" fill="#ffffff" stroke="#ffffff" stroke-width="0.45">Concentration</text>
  </g>

  <!-- Max response -->
  <path d="M634.1,197.6 C630.3,188.5 635,179.3 646,175.2 C653,172.7 661,172.2 669.3,172.1" fill="none" stroke="#2a4170" stroke-width="1.15"/>

  <!-- data points -->
  <use href="#pGreen" x="244.8" y="512.9"/>
  <use href="#pBlue" x="308.8" y="509.8"/>
  <use href="#pBlue" x="371.6" y="499"/>
  <use href="#pBlue" x="445" y="460.5"/>
  <g transform="translate(491.9,388)">
    <circle r="10" fill="#0c4783"/>
    <circle r="5.4" fill="#ffffff"/>
  </g>
  <g transform="translate(514.5,336.2)">
    <circle r="9.1" fill="#0c88ae"/>
    <circle r="4.8" fill="url(#ptLight)"/>
  </g>
  <use href="#pBlue" x="531.5" y="294.35"/>
  <use href="#pBlue" x="574.9" y="233.7"/>
  <use href="#pGreen" x="649.3" y="204.1"/>
  <use href="#pGreen" x="734.2" y="200.1"/>
  <use href="#pGreen" x="515.2" y="527.8"/>
</svg>
</body>
</html>
